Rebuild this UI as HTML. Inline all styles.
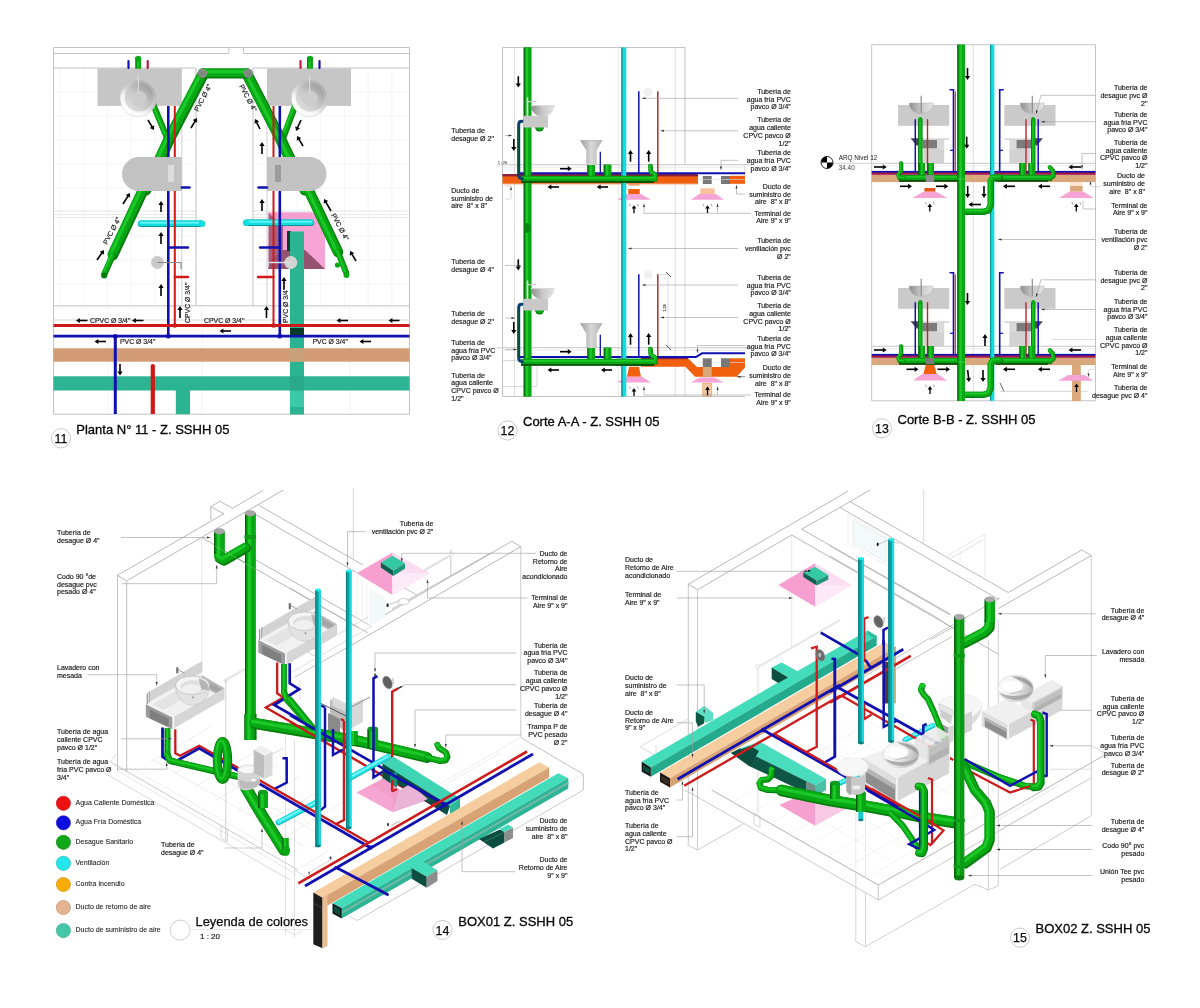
<!DOCTYPE html>
<html lang="es"><head><meta charset="utf-8"><title>Z. SSHH 05 - Instalaciones</title>
<style>
html,body{margin:0;padding:0;background:#fff;}
body{width:1200px;height:1008px;overflow:hidden;font-family:"Liberation Sans",sans-serif;}
svg{display:block;}
svg text{font-family:"Liberation Sans",sans-serif;}
svg{will-change:transform;}
svg text{stroke:#222;stroke-width:0.18px;}
</style></head><body>
<svg width="1200" height="1008" viewBox="0 0 1200 1008">
<defs>
<radialGradient id="bowl" cx="0.45" cy="0.6" r="0.6"><stop offset="0" stop-color="#d9d9d9"/><stop offset="0.35" stop-color="#c4c4c4"/><stop offset="0.75" stop-color="#a3a3a3"/><stop offset="1" stop-color="#e9e9e9"/></radialGradient>
<linearGradient id="basinO" x1="0.85" y1="0.1" x2="0.2" y2="0.95"><stop offset="0" stop-color="#a9a9a9"/><stop offset="0.45" stop-color="#cfcfcf"/><stop offset="0.7" stop-color="#f6f6f6"/><stop offset="1" stop-color="#ffffff"/></linearGradient>
<linearGradient id="basinI" x1="0.15" y1="0.9" x2="0.85" y2="0.1"><stop offset="0" stop-color="#dedede"/><stop offset="0.5" stop-color="#c6c6c6"/><stop offset="1" stop-color="#9e9e9e"/></linearGradient>
<linearGradient id="bowlB" x1="0.1" y1="0.3" x2="1" y2="0.6"><stop offset="0" stop-color="#fafafa"/><stop offset="0.45" stop-color="#ececec"/><stop offset="0.8" stop-color="#c9c9c9"/><stop offset="1" stop-color="#b0b0b0"/></linearGradient>
<linearGradient id="bowlS" x1="0" y1="0" x2="1" y2="0"><stop offset="0" stop-color="#8e8e8e"/><stop offset="0.5" stop-color="#c9c9c9"/><stop offset="1" stop-color="#e6e6e6"/></linearGradient>
<linearGradient id="fun" x1="0" y1="0" x2="1" y2="0"><stop offset="0" stop-color="#9a9a9a"/><stop offset="0.5" stop-color="#d8d8d8"/><stop offset="1" stop-color="#b0b0b0"/></linearGradient>
</defs>
<rect width="1200" height="1008" fill="#ffffff"/>
<g id="planta11">
<line x1="60" y1="68" x2="60" y2="306" stroke="#f1f1f1" stroke-width="0.8" />
<line x1="83.7" y1="68" x2="83.7" y2="306" stroke="#f1f1f1" stroke-width="0.8" />
<line x1="107.4" y1="68" x2="107.4" y2="306" stroke="#f1f1f1" stroke-width="0.8" />
<line x1="131.1" y1="68" x2="131.1" y2="306" stroke="#f1f1f1" stroke-width="0.8" />
<line x1="154.8" y1="68" x2="154.8" y2="306" stroke="#f1f1f1" stroke-width="0.8" />
<line x1="178.5" y1="68" x2="178.5" y2="306" stroke="#f1f1f1" stroke-width="0.8" />
<line x1="273.3" y1="68" x2="273.3" y2="306" stroke="#f1f1f1" stroke-width="0.8" />
<line x1="297" y1="68" x2="297" y2="306" stroke="#f1f1f1" stroke-width="0.8" />
<line x1="320.7" y1="68" x2="320.7" y2="306" stroke="#f1f1f1" stroke-width="0.8" />
<line x1="344.4" y1="68" x2="344.4" y2="306" stroke="#f1f1f1" stroke-width="0.8" />
<line x1="368.1" y1="68" x2="368.1" y2="306" stroke="#f1f1f1" stroke-width="0.8" />
<line x1="391.8" y1="68" x2="391.8" y2="306" stroke="#f1f1f1" stroke-width="0.8" />
<line x1="54" y1="91.7" x2="196" y2="91.7" stroke="#f1f1f1" stroke-width="0.8" />
<line x1="253" y1="91.7" x2="409" y2="91.7" stroke="#f1f1f1" stroke-width="0.8" />
<line x1="54" y1="115.7" x2="196" y2="115.7" stroke="#f1f1f1" stroke-width="0.8" />
<line x1="253" y1="115.7" x2="409" y2="115.7" stroke="#f1f1f1" stroke-width="0.8" />
<line x1="54" y1="139.7" x2="196" y2="139.7" stroke="#f1f1f1" stroke-width="0.8" />
<line x1="253" y1="139.7" x2="409" y2="139.7" stroke="#f1f1f1" stroke-width="0.8" />
<line x1="54" y1="163.7" x2="196" y2="163.7" stroke="#f1f1f1" stroke-width="0.8" />
<line x1="253" y1="163.7" x2="409" y2="163.7" stroke="#f1f1f1" stroke-width="0.8" />
<line x1="54" y1="187.7" x2="196" y2="187.7" stroke="#f1f1f1" stroke-width="0.8" />
<line x1="253" y1="187.7" x2="409" y2="187.7" stroke="#f1f1f1" stroke-width="0.8" />
<line x1="54" y1="211.7" x2="196" y2="211.7" stroke="#f1f1f1" stroke-width="0.8" />
<line x1="253" y1="211.7" x2="409" y2="211.7" stroke="#f1f1f1" stroke-width="0.8" />
<line x1="54" y1="235.7" x2="196" y2="235.7" stroke="#f1f1f1" stroke-width="0.8" />
<line x1="253" y1="235.7" x2="409" y2="235.7" stroke="#f1f1f1" stroke-width="0.8" />
<line x1="54" y1="259.7" x2="196" y2="259.7" stroke="#f1f1f1" stroke-width="0.8" />
<line x1="253" y1="259.7" x2="409" y2="259.7" stroke="#f1f1f1" stroke-width="0.8" />
<line x1="54" y1="283.7" x2="196" y2="283.7" stroke="#f1f1f1" stroke-width="0.8" />
<line x1="253" y1="283.7" x2="409" y2="283.7" stroke="#f1f1f1" stroke-width="0.8" />
<line x1="54" y1="307.7" x2="196" y2="307.7" stroke="#f1f1f1" stroke-width="0.8" />
<line x1="253" y1="307.7" x2="409" y2="307.7" stroke="#f1f1f1" stroke-width="0.8" />
<line x1="108" y1="306" x2="108" y2="414" stroke="#f0f0f0" stroke-width="0.8" />
<line x1="202" y1="306" x2="202" y2="414" stroke="#f0f0f0" stroke-width="0.8" />
<line x1="299" y1="306" x2="299" y2="414" stroke="#f0f0f0" stroke-width="0.8" />
<line x1="350" y1="306" x2="350" y2="414" stroke="#f0f0f0" stroke-width="0.8" />
<line x1="54" y1="211" x2="196" y2="211" stroke="#dedede" stroke-width="0.7" />
<line x1="253" y1="211" x2="409" y2="211" stroke="#dedede" stroke-width="0.7" />
<line x1="54" y1="214.5" x2="196" y2="214.5" stroke="#dedede" stroke-width="0.7" />
<line x1="253" y1="214.5" x2="409" y2="214.5" stroke="#dedede" stroke-width="0.7" />
<line x1="54" y1="217.5" x2="196" y2="217.5" stroke="#dedede" stroke-width="0.7" />
<line x1="253" y1="217.5" x2="409" y2="217.5" stroke="#dedede" stroke-width="0.7" />
<polyline points="53.5,414.2 53.5,47.5 409.5,47.5 409.5,414.2" stroke="#bcbcbc" stroke-width="0.9" fill="none" />
<polyline points="53.5,53.5 228.8,53.5 228.8,48" stroke="#bcbcbc" stroke-width="0.9" fill="none" />
<polyline points="409.5,53.5 243.5,53.5 243.5,48" stroke="#bcbcbc" stroke-width="0.9" fill="none" />
<line x1="53.5" y1="414.2" x2="409.5" y2="414.2" stroke="#bcbcbc" stroke-width="0.9" />
<line x1="53.5" y1="68" x2="196" y2="68" stroke="#bcbcbc" stroke-width="0.9" />
<line x1="253" y1="68" x2="409.5" y2="68" stroke="#bcbcbc" stroke-width="0.9" />
<polyline points="196,68 196,305.8 253,305.8 253,68" stroke="#bcbcbc" stroke-width="0.9" fill="none" />
<line x1="53.5" y1="305.8" x2="196" y2="305.8" stroke="#bcbcbc" stroke-width="0.9" />
<line x1="253" y1="305.8" x2="409.5" y2="305.8" stroke="#bcbcbc" stroke-width="0.9" />
<line x1="53.5" y1="320" x2="409.5" y2="320" stroke="#c8c8c8" stroke-width="0.7" />
<line x1="181.8" y1="106" x2="181.8" y2="305" stroke="#c4c4c4" stroke-width="0.8" />
<line x1="267" y1="106" x2="267" y2="305" stroke="#c4c4c4" stroke-width="0.8" />
<rect x="268.5" y="212.5" width="56.5" height="56.5" fill="#f6a4d6" stroke="none" stroke-width="0" />
<polygon points="268.5,212.5 283,226 283,269 268.5,269" fill="#a2627f" stroke="none" stroke-width="0" />
<polygon points="283,250 305,250 325,269 268.5,269 268.5,262" fill="#96536f" stroke="none" stroke-width="0" />
<polygon points="268.5,212.5 312,212.5 312,222 283,226" fill="#f39fd0" stroke="none" stroke-width="0" />
<rect x="287" y="231" width="4" height="20" fill="#0a3d30" stroke="none" stroke-width="0" />
<rect x="290" y="231.5" width="14" height="183" fill="#2cb392" stroke="none" stroke-width="0" />
<rect x="290" y="328" width="14" height="8.5" fill="#0b3a2c" stroke="none" stroke-width="0" />
<rect x="290" y="390" width="14" height="17" fill="#3bc9a8" stroke="none" stroke-width="0" />
<rect x="53.5" y="348.3" width="356" height="13.4" fill="#d29b73" stroke="none" stroke-width="0" />
<rect x="53.5" y="376.3" width="356" height="14.2" fill="#2cb392" stroke="none" stroke-width="0" />
<rect x="290" y="348.3" width="14" height="13.4" fill="#c9a178" stroke="none" stroke-width="0" />
<rect x="290" y="376.3" width="14" height="14.2" fill="#2aa98a" stroke="none" stroke-width="0" />
<rect x="175.8" y="390" width="14.2" height="24.2" fill="#2cb392" stroke="none" stroke-width="0" />
<rect x="97.5" y="68.3" width="84.3" height="37.6" fill="#c6c6c6" stroke="none" stroke-width="0" />
<rect x="267" y="68.3" width="84" height="37.6" fill="#c6c6c6" stroke="none" stroke-width="0" />
<rect x="135.55" y="57" width="5.5" height="11.5" fill="#057c0c" stroke="none" stroke-width="0" />
<rect x="136.27" y="57" width="4.79" height="11.5" fill="#08a814" stroke="none" stroke-width="0" />
<rect x="137.09" y="57" width="1.65" height="11.5" fill="#1cc828" stroke="none" stroke-width="0" />
<rect x="135.55" y="57" width="0.55" height="11.5" fill="#03590a" stroke="none" stroke-width="0" />
<circle cx="138.3" cy="58.5" r="2.8" fill="#08a814" stroke="none" stroke-width="0" />
<rect x="307.25" y="57" width="5.5" height="11.5" fill="#057c0c" stroke="none" stroke-width="0" />
<rect x="307.96" y="57" width="4.79" height="11.5" fill="#08a814" stroke="none" stroke-width="0" />
<rect x="308.79" y="57" width="1.65" height="11.5" fill="#1cc828" stroke="none" stroke-width="0" />
<rect x="307.25" y="57" width="0.55" height="11.5" fill="#03590a" stroke="none" stroke-width="0" />
<circle cx="310" cy="58.5" r="2.8" fill="#08a814" stroke="none" stroke-width="0" />
<line x1="128.5" y1="61" x2="128.5" y2="68" stroke="#1010b0" stroke-width="2.2" stroke-linecap="round"/>
<line x1="147.7" y1="61" x2="147.7" y2="68" stroke="#c2183a" stroke-width="2.2" stroke-linecap="round"/>
<line x1="300.5" y1="61" x2="300.5" y2="68" stroke="#d0183a" stroke-width="2.2" stroke-linecap="round"/>
<line x1="319.5" y1="61" x2="319.5" y2="68" stroke="#1010b0" stroke-width="2.2" stroke-linecap="round"/>
<polyline points="153,104 168,140" stroke="#057c0c" stroke-width="6" fill="none" stroke-linecap="round" stroke-linejoin="round"/>
<polyline points="152.46,103.46 167.46,139.46" stroke="#08a814" stroke-width="5.04" fill="none" stroke-linecap="round" stroke-linejoin="round"/>
<polyline points="151.92,102.92 166.92,138.92" stroke="#1cc828" stroke-width="1.8" fill="none" stroke-linecap="round" stroke-linejoin="round"/>
<polyline points="296,104 284,136" stroke="#057c0c" stroke-width="6" fill="none" stroke-linecap="round" stroke-linejoin="round"/>
<polyline points="295.46,103.46 283.46,135.46" stroke="#08a814" stroke-width="5.04" fill="none" stroke-linecap="round" stroke-linejoin="round"/>
<polyline points="294.92,102.92 282.92,134.92" stroke="#1cc828" stroke-width="1.8" fill="none" stroke-linecap="round" stroke-linejoin="round"/>
<polyline points="203.5,74 170,138 146,190" stroke="#057c0c" stroke-width="11" fill="none" stroke-linecap="round" stroke-linejoin="round"/>
<polyline points="202.51,73.01 169.01,137.01 145.01,189.01" stroke="#08a814" stroke-width="9.24" fill="none" stroke-linecap="round" stroke-linejoin="round"/>
<polyline points="201.52,72.02 168.02,136.02 144.02,188.02" stroke="#1cc828" stroke-width="3.3" fill="none" stroke-linecap="round" stroke-linejoin="round"/>
<polyline points="247,74 280,138 305,190" stroke="#057c0c" stroke-width="11" fill="none" stroke-linecap="round" stroke-linejoin="round"/>
<polyline points="246.01,73.01 279.01,137.01 304.01,189.01" stroke="#08a814" stroke-width="9.24" fill="none" stroke-linecap="round" stroke-linejoin="round"/>
<polyline points="245.02,72.02 278.02,136.02 303.02,188.02" stroke="#1cc828" stroke-width="3.3" fill="none" stroke-linecap="round" stroke-linejoin="round"/>
<polyline points="203,73.5 247.5,73.5" stroke="#057c0c" stroke-width="10" fill="none" stroke-linecap="round" stroke-linejoin="round"/>
<polyline points="203,72.6 247.5,72.6" stroke="#08a814" stroke-width="8.4" fill="none" stroke-linecap="round" stroke-linejoin="round"/>
<polyline points="203,71.7 247.5,71.7" stroke="#1cc828" stroke-width="3" fill="none" stroke-linecap="round" stroke-linejoin="round"/>
<circle cx="202.5" cy="73.3" r="4.6" fill="#8c8c8c" stroke="none" stroke-width="0" />
<circle cx="202.5" cy="73.3" r="3" fill="#7c8a7c" stroke="none" stroke-width="0" />
<circle cx="248.3" cy="73.3" r="4.6" fill="#8c8c8c" stroke="none" stroke-width="0" />
<circle cx="248.3" cy="73.3" r="3" fill="#7c8a7c" stroke="none" stroke-width="0" />
<polyline points="142,193 113,255" stroke="#057c0c" stroke-width="10.5" fill="none" stroke-linecap="round" stroke-linejoin="round"/>
<polyline points="141.06,192.06 112.06,254.06" stroke="#08a814" stroke-width="8.82" fill="none" stroke-linecap="round" stroke-linejoin="round"/>
<polyline points="140.11,191.11 111.11,253.11" stroke="#1cc828" stroke-width="3.15" fill="none" stroke-linecap="round" stroke-linejoin="round"/>
<polyline points="113,255 104.5,274" stroke="#057c0c" stroke-width="6" fill="none" stroke-linecap="round" stroke-linejoin="round"/>
<polyline points="112.46,254.46 103.96,273.46" stroke="#08a814" stroke-width="5.04" fill="none" stroke-linecap="round" stroke-linejoin="round"/>
<polyline points="111.92,253.92 103.42,272.92" stroke="#1cc828" stroke-width="1.8" fill="none" stroke-linecap="round" stroke-linejoin="round"/>
<circle cx="104.2" cy="275.5" r="3" fill="#057c0c" stroke="none" stroke-width="0" />
<polyline points="310,193 338,252" stroke="#057c0c" stroke-width="10.5" fill="none" stroke-linecap="round" stroke-linejoin="round"/>
<polyline points="309.06,192.06 337.06,251.06" stroke="#08a814" stroke-width="8.82" fill="none" stroke-linecap="round" stroke-linejoin="round"/>
<polyline points="308.11,191.11 336.11,250.11" stroke="#1cc828" stroke-width="3.15" fill="none" stroke-linecap="round" stroke-linejoin="round"/>
<polyline points="338,252 346,272" stroke="#057c0c" stroke-width="6" fill="none" stroke-linecap="round" stroke-linejoin="round"/>
<polyline points="337.46,251.46 345.46,271.46" stroke="#08a814" stroke-width="5.04" fill="none" stroke-linecap="round" stroke-linejoin="round"/>
<polyline points="336.92,250.92 344.92,270.92" stroke="#1cc828" stroke-width="1.8" fill="none" stroke-linecap="round" stroke-linejoin="round"/>
<circle cx="337.5" cy="265" r="2.6" fill="#08a814" stroke="none" stroke-width="0" />
<circle cx="346.5" cy="275" r="3" fill="#08a814" stroke="none" stroke-width="0" />
<polyline points="141,223.7 201,223.7" stroke="#0b9397" stroke-width="6.4" fill="none" stroke-linecap="round" stroke-linejoin="round"/>
<polyline points="141,223.24 201,223.24" stroke="#14dde0" stroke-width="5.38" fill="none" stroke-linecap="round" stroke-linejoin="round"/>
<polyline points="141,222.78 201,222.78" stroke="#5ff2f4" stroke-width="1.92" fill="none" stroke-linecap="round" stroke-linejoin="round"/>
<circle cx="202" cy="223.7" r="3.2" fill="#14dde0" stroke="none" stroke-width="0" />
<polyline points="247,222.7 311,222.7" stroke="#0b9397" stroke-width="6.4" fill="none" stroke-linecap="round" stroke-linejoin="round"/>
<polyline points="247,222.24 311,222.24" stroke="#14dde0" stroke-width="5.38" fill="none" stroke-linecap="round" stroke-linejoin="round"/>
<polyline points="247,221.78 311,221.78" stroke="#5ff2f4" stroke-width="1.92" fill="none" stroke-linecap="round" stroke-linejoin="round"/>
<circle cx="246" cy="222.7" r="3.2" fill="#14dde0" stroke="none" stroke-width="0" />
<circle cx="138.3" cy="98.3" r="18.2" fill="url(#basinO)" stroke="#c9c9c9" stroke-width="0.5" />
<circle cx="138.9" cy="97.4" r="14.2" fill="url(#basinI)" stroke="none" stroke-width="0" />
<circle cx="139.1" cy="98.6" r="7.6" fill="#cdcdcd" stroke="none" stroke-width="0" />
<line x1="138.3" y1="74" x2="138.3" y2="93" stroke="#d9d9d9" stroke-width="1.2" />
<circle cx="309.5" cy="98.3" r="18.2" fill="url(#basinO)" stroke="#c9c9c9" stroke-width="0.5" />
<circle cx="310.1" cy="97.4" r="14.2" fill="url(#basinI)" stroke="none" stroke-width="0" />
<circle cx="310.3" cy="98.6" r="7.6" fill="#cdcdcd" stroke="none" stroke-width="0" />
<line x1="309.5" y1="74" x2="309.5" y2="93" stroke="#d9d9d9" stroke-width="1.2" />
<line x1="168.3" y1="106" x2="168.3" y2="336" stroke="#1010b0" stroke-width="2.6" />
<line x1="174.8" y1="106" x2="174.8" y2="325.5" stroke="#d01818" stroke-width="2" />
<line x1="279.8" y1="106" x2="279.8" y2="336" stroke="#1010b0" stroke-width="2.6" />
<line x1="273.5" y1="106" x2="273.5" y2="325.5" stroke="#d01818" stroke-width="2" />
<path d="M181.8,157 H139 A17,17 0 0 0 139,191 H181.8 Z" fill="#c2c2c2" stroke="none" stroke-width="0" />
<rect x="168" y="165" width="6" height="17" fill="#dcdcdc" stroke="none" stroke-width="0" />
<path d="M267,157 H309.5 A17,17 0 0 1 309.5,191 H267 Z" fill="#c2c2c2" stroke="none" stroke-width="0" />
<rect x="275" y="165" width="6" height="17" fill="#9c9c9c" stroke="none" stroke-width="0" />
<line x1="181.8" y1="187.5" x2="189.5" y2="187.5" stroke="#1010b0" stroke-width="2.4" stroke-linecap="round"/>
<line x1="258.5" y1="187.5" x2="267" y2="187.5" stroke="#1010b0" stroke-width="2.4" stroke-linecap="round"/>
<line x1="168.3" y1="247.5" x2="188" y2="247.5" stroke="#1010b0" stroke-width="2.4" stroke-linecap="round"/>
<line x1="260" y1="247.5" x2="279.8" y2="247.5" stroke="#1010b0" stroke-width="2.4" stroke-linecap="round"/>
<line x1="174.8" y1="277" x2="188" y2="277" stroke="#d01818" stroke-width="2.4" stroke-linecap="round"/>
<line x1="258" y1="277" x2="273.5" y2="277" stroke="#d01818" stroke-width="2.4" stroke-linecap="round"/>
<circle cx="157.5" cy="262.5" r="6.5" fill="#c9c9c9" stroke="none" stroke-width="0" />
<polyline points="157.5,262.5 181,262.5 181,269" stroke="#8a8a8a" stroke-width="1.2" fill="none" />
<circle cx="290.8" cy="262.5" r="6.5" fill="#d4d4d4" stroke="none" stroke-width="0" />
<polyline points="290.8,262.5 268,262.5 268,267" stroke="#e0e0e0" stroke-width="1.6" fill="none" />
<line x1="53.5" y1="325.5" x2="409.5" y2="325.5" stroke="#d01818" stroke-width="2.8" />
<line x1="53.5" y1="336.2" x2="409.5" y2="336.2" stroke="#1010b0" stroke-width="2.8" />
<rect x="290" y="328" width="14" height="7" fill="#0b3a2c" stroke="none" stroke-width="0" />
<line x1="115.3" y1="336" x2="115.3" y2="414" stroke="#1010b0" stroke-width="3" />
<line x1="152.8" y1="366" x2="152.8" y2="414" stroke="#d01818" stroke-width="4.2" />
<circle cx="152.8" cy="366" r="2.1" fill="#d01818" stroke="none" stroke-width="0" />
<circle cx="168.3" cy="336.2" r="2.4" fill="#1010b0" stroke="none" stroke-width="0" />
<circle cx="279.8" cy="336.2" r="2.4" fill="#1010b0" stroke="none" stroke-width="0" />
<circle cx="115.3" cy="336.5" r="2.4" fill="#1010b0" stroke="none" stroke-width="0" />
<circle cx="174.8" cy="325.5" r="2.3" fill="#d01818" stroke="none" stroke-width="0" />
<circle cx="273.5" cy="325.5" r="2.3" fill="#d01818" stroke="none" stroke-width="0" />
<line x1="148" y1="120" x2="152.25" y2="127.08" stroke="#000" stroke-width="1.6" />
<polygon points="154,130 149.76,127.99 154.22,125.32" fill="#000" stroke="none" stroke-width="0" />
<line x1="191" y1="128" x2="195.25" y2="120.92" stroke="#000" stroke-width="1.6" />
<polygon points="197,118 197.22,122.68 192.76,120.01" fill="#000" stroke="none" stroke-width="0" />
<line x1="260" y1="129" x2="256.52" y2="122.04" stroke="#000" stroke-width="1.6" />
<polygon points="255,119 259.07,121.33 254.42,123.65" fill="#000" stroke="none" stroke-width="0" />
<line x1="301" y1="120" x2="297.41" y2="127.9" stroke="#000" stroke-width="1.6" />
<polygon points="296,131 295.25,126.37 299.98,128.53" fill="#000" stroke="none" stroke-width="0" />
<line x1="303" y1="146" x2="298.75" y2="138.92" stroke="#000" stroke-width="1.6" />
<polygon points="297,136 301.24,138.01 296.78,140.68" fill="#000" stroke="none" stroke-width="0" />
<line x1="262" y1="154" x2="262" y2="145.4" stroke="#000" stroke-width="1.6" />
<polygon points="262,142 264.6,145.9 259.4,145.9" fill="#000" stroke="none" stroke-width="0" />
<line x1="123" y1="204" x2="128.17" y2="195.87" stroke="#000" stroke-width="1.6" />
<polygon points="130,193 130.1,197.69 125.71,194.89" fill="#000" stroke="none" stroke-width="0" />
<line x1="161" y1="212" x2="161" y2="204.4" stroke="#000" stroke-width="1.6" />
<polygon points="161,201 163.6,204.9 158.4,204.9" fill="#000" stroke="none" stroke-width="0" />
<line x1="262" y1="211" x2="262" y2="202.4" stroke="#000" stroke-width="1.6" />
<polygon points="262,199 264.6,202.9 259.4,202.9" fill="#000" stroke="none" stroke-width="0" />
<line x1="331" y1="211" x2="325.71" y2="201.94" stroke="#000" stroke-width="1.6" />
<polygon points="324,199 328.21,201.06 323.72,203.68" fill="#000" stroke="none" stroke-width="0" />
<line x1="97" y1="260" x2="102.05" y2="252.79" stroke="#000" stroke-width="1.6" />
<polygon points="104,250 103.89,254.69 99.63,251.7" fill="#000" stroke="none" stroke-width="0" />
<line x1="161" y1="244" x2="161" y2="235.4" stroke="#000" stroke-width="1.6" />
<polygon points="161,232 163.6,235.9 158.4,235.9" fill="#000" stroke="none" stroke-width="0" />
<line x1="161" y1="296" x2="161" y2="287.4" stroke="#000" stroke-width="1.6" />
<polygon points="161,284 163.6,287.9 158.4,287.9" fill="#000" stroke="none" stroke-width="0" />
<line x1="180" y1="318" x2="180" y2="309.4" stroke="#000" stroke-width="1.6" />
<polygon points="180,306 182.6,309.9 177.4,309.9" fill="#000" stroke="none" stroke-width="0" />
<line x1="266.5" y1="318" x2="266.5" y2="309.4" stroke="#000" stroke-width="1.6" />
<polygon points="266.5,306 269.1,309.9 263.9,309.9" fill="#000" stroke="none" stroke-width="0" />
<line x1="284" y1="289" x2="284" y2="280.4" stroke="#000" stroke-width="1.6" />
<polygon points="284,277 286.6,280.9 281.4,280.9" fill="#000" stroke="none" stroke-width="0" />
<line x1="356" y1="261" x2="351.75" y2="253.92" stroke="#000" stroke-width="1.6" />
<polygon points="350,251 354.24,253.01 349.78,255.68" fill="#000" stroke="none" stroke-width="0" />
<line x1="87.5" y1="320.5" x2="79.4" y2="320.5" stroke="#000" stroke-width="1.6" />
<polygon points="76,320.5 79.9,317.9 79.9,323.1" fill="#000" stroke="none" stroke-width="0" />
<line x1="143.5" y1="320.5" x2="135.4" y2="320.5" stroke="#000" stroke-width="1.6" />
<polygon points="132,320.5 135.9,317.9 135.9,323.1" fill="#000" stroke="none" stroke-width="0" />
<line x1="231" y1="331" x2="222.9" y2="331" stroke="#000" stroke-width="1.6" />
<polygon points="219.5,331 223.4,328.4 223.4,333.6" fill="#000" stroke="none" stroke-width="0" />
<line x1="348" y1="320.5" x2="339.9" y2="320.5" stroke="#000" stroke-width="1.6" />
<polygon points="336.5,320.5 340.4,317.9 340.4,323.1" fill="#000" stroke="none" stroke-width="0" />
<line x1="399.5" y1="320.5" x2="391.9" y2="320.5" stroke="#000" stroke-width="1.6" />
<polygon points="388.5,320.5 392.4,317.9 392.4,323.1" fill="#000" stroke="none" stroke-width="0" />
<line x1="106" y1="341.5" x2="97.9" y2="341.5" stroke="#000" stroke-width="1.6" />
<polygon points="94.5,341.5 98.4,338.9 98.4,344.1" fill="#000" stroke="none" stroke-width="0" />
<line x1="371" y1="341.5" x2="362.9" y2="341.5" stroke="#000" stroke-width="1.6" />
<polygon points="359.5,341.5 363.4,338.9 363.4,344.1" fill="#000" stroke="none" stroke-width="0" />
<line x1="120" y1="364" x2="120" y2="372.1" stroke="#000" stroke-width="1.6" />
<polygon points="120,375.5 117.4,371.6 122.6,371.6" fill="#000" stroke="none" stroke-width="0" />
<text x="90" y="322.8" font-size="6.9" text-anchor="start" fill="#222" >CPVC Ø 3/4"</text>
<text x="204" y="322.8" font-size="6.9" text-anchor="start" fill="#222" >CPVC Ø 3/4"</text>
<text x="120" y="344.2" font-size="6.9" text-anchor="start" fill="#222" >PVC Ø 3/4"</text>
<text x="312.5" y="344.2" font-size="6.9" text-anchor="start" fill="#222" >PVC Ø 3/4"</text>
<text transform="translate(189.5 323) rotate(-90)" font-size="6.9" text-anchor="start" fill="#222">CPVC Ø 3/4"</text>
<text transform="translate(288 323) rotate(-90)" font-size="6.9" text-anchor="start" fill="#222">PVC Ø 3/4"</text>
<text transform="translate(205 99) rotate(-62)" font-size="6.9" text-anchor="middle" fill="#222">PVC Ø 4"</text>
<text transform="translate(246 99) rotate(62)" font-size="6.9" text-anchor="middle" fill="#222">PVC Ø 4"</text>
<text transform="translate(114 232) rotate(-62)" font-size="6.9" text-anchor="middle" fill="#222">PVC Ø 4"</text>
<text transform="translate(338 228) rotate(62)" font-size="6.9" text-anchor="middle" fill="#222">PVC Ø 4"</text>
<circle cx="61" cy="438.3" r="9.6" fill="#fff" stroke="#bdbdbd" stroke-width="0.8" />
<text x="61" y="442.9" font-size="12.4" text-anchor="middle" fill="#0a0a0a" style="stroke:#0a0a0a;stroke-width:0.25px">11</text>
<text x="76.3" y="433.8" font-size="13.0" text-anchor="start" fill="#050505" style="stroke:#050505;stroke-width:0.3px">Planta N° 11 - Z. SSHH 05</text>
</g>
<g id="corteAA">
<polyline points="502.5,396.5 502.5,47.5 685,47.5 685,165" stroke="#bdbdbd" stroke-width="0.9" fill="none" />
<line x1="502.5" y1="396.5" x2="745" y2="396.5" stroke="#bdbdbd" stroke-width="0.9" />
<line x1="685" y1="176" x2="685" y2="396.5" stroke="#cfcfcf" stroke-width="0.8" />
<line x1="514.5" y1="47.5" x2="514.5" y2="396.5" stroke="#d4d4d4" stroke-width="0.8" />
<line x1="675.3" y1="47.5" x2="675.3" y2="396.5" stroke="#d4d4d4" stroke-width="0.8" />
<line x1="618.3" y1="47.5" x2="618.3" y2="396.5" stroke="#e2e2e2" stroke-width="0.8" />
<line x1="745" y1="165" x2="745" y2="176" stroke="#cfcfcf" stroke-width="0.8" />
<line x1="497" y1="164.7" x2="752" y2="164.7" stroke="#c4c4c4" stroke-width="1.1" />
<line x1="502.5" y1="167.2" x2="745" y2="167.2" stroke="#e0e0e0" stroke-width="0.7" />
<line x1="497" y1="347.7" x2="752" y2="347.7" stroke="#c4c4c4" stroke-width="1.1" />
<line x1="502.5" y1="350.2" x2="745" y2="350.2" stroke="#e0e0e0" stroke-width="0.7" />
<line x1="502.5" y1="360.5" x2="523" y2="360.5" stroke="#cfcfcf" stroke-width="0.8" />
<polyline points="502.5,386.5 537,386.5 537,366" stroke="#cfcfcf" stroke-width="0.8" fill="none" />
<rect x="502.5" y="175.8" width="195.5" height="8" fill="#f0600f" stroke="none" stroke-width="0" />
<rect x="502.5" y="174" width="195.5" height="2.4" fill="#8a1f3c" stroke="none" stroke-width="0" />
<rect x="730" y="175.8" width="15" height="8" fill="#f0600f" stroke="none" stroke-width="0" />
<rect x="702.8" y="176" width="8.9" height="8" fill="#777" stroke="none" stroke-width="0" />
<rect x="721" y="176" width="9" height="8" fill="#777" stroke="none" stroke-width="0" />
<line x1="698" y1="179.5" x2="745" y2="179.5" stroke="#d8d8d8" stroke-width="0.6" />
<line x1="502.5" y1="184.3" x2="698" y2="184.3" stroke="#f7c49a" stroke-width="0.8" />
<polygon points="641,358.3 688,358.3 697,367 745,367 745,358.5 745,367.5 736.7,376.7 695,376.7 685.5,366.7 641,366.7" fill="#f0600f" stroke="none" stroke-width="0" />
<rect x="730" y="358.3" width="15" height="9" fill="#f0600f" stroke="none" stroke-width="0" />
<rect x="641" y="357" width="47" height="2.2" fill="#8a1f3c" stroke="none" stroke-width="0" />
<polygon points="690.5,357 699.5,367 730,367 730,357" fill="#ffffff" stroke="none" stroke-width="0" />
<line x1="698" y1="362.5" x2="745" y2="362.5" stroke="#e0e0e0" stroke-width="0.6" />
<rect x="702.8" y="358.3" width="8.9" height="8.8" fill="#777" stroke="none" stroke-width="0" />
<rect x="721" y="358.3" width="9" height="8.8" fill="#777" stroke="none" stroke-width="0" />
<rect x="702.8" y="367" width="8.9" height="9.7" fill="#d9a979" stroke="none" stroke-width="0" />
<rect x="702.8" y="383.3" width="8.9" height="12.7" fill="#f3c7a0" stroke="#e9a56c" stroke-width="0.8" />
<polygon points="628.25,189 639.75,189 639.75,194 628.25,194" fill="#f0600f" stroke="none" stroke-width="0" />
<polygon points="627.25,194 640.75,194 651,199.7 617,199.7" fill="#f6a4d6" stroke="none" stroke-width="0" />
<line x1="629.4" y1="203.7" x2="630.6" y2="206.3" stroke="#7a7a8a" stroke-width="0.7" />
<line x1="637.4" y1="203.7" x2="638.6" y2="206.3" stroke="#5a7aa0" stroke-width="0.7" />
<line x1="634" y1="213.2" x2="634" y2="208.1" stroke="#000" stroke-width="1.3" />
<polygon points="634,205.2 636.3,208.6 631.7,208.6" fill="#000" stroke="none" stroke-width="0" />
<rect x="628.5" y="184" width="11" height="1.6" fill="#f5a070" stroke="none" stroke-width="0" />
<polygon points="700.3,188.3 714.7,188.3 714.7,194 700.3,194" fill="#f8c39c" stroke="none" stroke-width="0" />
<polygon points="699.3,194 715.7,194 724.1,199.7 690.9,199.7" fill="#f6a4d6" stroke="none" stroke-width="0" />
<line x1="702.9" y1="203.7" x2="704.1" y2="206.3" stroke="#7a7a8a" stroke-width="0.7" />
<line x1="710.9" y1="203.7" x2="712.1" y2="206.3" stroke="#5a7aa0" stroke-width="0.7" />
<line x1="707.5" y1="213.2" x2="707.5" y2="208.1" stroke="#000" stroke-width="1.3" />
<polygon points="707.5,205.2 709.8,208.6 705.2,208.6" fill="#000" stroke="none" stroke-width="0" />
<polygon points="629,366.7 639,366.7 641,376.7 627,376.7" fill="#f0600f" stroke="none" stroke-width="0" />
<polygon points="626,376.7 642,376.7 651,382.5 617,382.5" fill="#f6a4d6" stroke="none" stroke-width="0" />
<line x1="629.4" y1="386.5" x2="630.6" y2="389.1" stroke="#7a7a8a" stroke-width="0.7" />
<line x1="637.4" y1="386.5" x2="638.6" y2="389.1" stroke="#5a7aa0" stroke-width="0.7" />
<line x1="634" y1="396" x2="634" y2="390.9" stroke="#000" stroke-width="1.3" />
<polygon points="634,388 636.3,391.4 631.7,391.4" fill="#000" stroke="none" stroke-width="0" />
<polygon points="700,377.5 714.5,377.5 724,382.5 690.8,382.5" fill="#f6a4d6" stroke="none" stroke-width="0" />
<line x1="707.5" y1="395.5" x2="707.5" y2="389.4" stroke="#000" stroke-width="1.3" />
<polygon points="707.5,386.5 709.8,389.9 705.2,389.9" fill="#000" stroke="none" stroke-width="0" />
<line x1="520" y1="173.3" x2="745" y2="173.3" stroke="#1010b0" stroke-width="2" />
<rect x="587.45" y="164.7" width="7.5" height="12.3" fill="#057c0c" stroke="none" stroke-width="0" />
<rect x="588.43" y="164.7" width="6.53" height="12.3" fill="#08a814" stroke="none" stroke-width="0" />
<rect x="589.55" y="164.7" width="2.25" height="12.3" fill="#1cc828" stroke="none" stroke-width="0" />
<rect x="587.45" y="164.7" width="0.75" height="12.3" fill="#03590a" stroke="none" stroke-width="0" />
<rect x="603.75" y="164.7" width="7.5" height="12.3" fill="#057c0c" stroke="none" stroke-width="0" />
<rect x="604.73" y="164.7" width="6.53" height="12.3" fill="#08a814" stroke="none" stroke-width="0" />
<rect x="605.85" y="164.7" width="2.25" height="12.3" fill="#1cc828" stroke="none" stroke-width="0" />
<rect x="603.75" y="164.7" width="0.75" height="12.3" fill="#03590a" stroke="none" stroke-width="0" />
<line x1="600.3" y1="151.7" x2="600.3" y2="173" stroke="#1010b0" stroke-width="1.3" />
<polyline points="520,357 696,357 702,353.3 745,353.3" stroke="#1010b0" stroke-width="2" fill="none" />
<rect x="587.45" y="347.7" width="7.5" height="12.3" fill="#057c0c" stroke="none" stroke-width="0" />
<rect x="588.43" y="347.7" width="6.53" height="12.3" fill="#08a814" stroke="none" stroke-width="0" />
<rect x="589.55" y="347.7" width="2.25" height="12.3" fill="#1cc828" stroke="none" stroke-width="0" />
<rect x="587.45" y="347.7" width="0.75" height="12.3" fill="#03590a" stroke="none" stroke-width="0" />
<rect x="603.75" y="347.7" width="7.5" height="12.3" fill="#057c0c" stroke="none" stroke-width="0" />
<rect x="604.73" y="347.7" width="6.53" height="12.3" fill="#08a814" stroke="none" stroke-width="0" />
<rect x="605.85" y="347.7" width="2.25" height="12.3" fill="#1cc828" stroke="none" stroke-width="0" />
<rect x="603.75" y="347.7" width="0.75" height="12.3" fill="#03590a" stroke="none" stroke-width="0" />
<line x1="600.3" y1="334.7" x2="600.3" y2="356" stroke="#1010b0" stroke-width="1.3" />
<rect x="523.7" y="47.5" width="7.6" height="349" fill="#057c0c" stroke="none" stroke-width="0" />
<rect x="524.69" y="47.5" width="6.61" height="349" fill="#08a814" stroke="none" stroke-width="0" />
<rect x="525.83" y="47.5" width="2.28" height="349" fill="#1cc828" stroke="none" stroke-width="0" />
<rect x="523.7" y="47.5" width="0.76" height="349" fill="#03590a" stroke="none" stroke-width="0" />
<ellipse cx="527.5" cy="228" rx="3.6" ry="5" fill="#078a12" stroke="none" stroke-width="0" />
<rect x="521" y="175.8" width="133" height="6.4" fill="#057c0c" stroke="none" stroke-width="0" />
<rect x="521" y="176.06" width="133" height="4.86" fill="#08a814" stroke="none" stroke-width="0" />
<rect x="521" y="176.95" width="133" height="1.79" fill="#1cc828" stroke="none" stroke-width="0" />
<rect x="521" y="181.2" width="133" height="1.6" fill="#034d08" stroke="none" stroke-width="0" />
<polyline points="650.5,166 651,172 655.5,175 655.5,179.5 650,179.5" stroke="#057c0c" stroke-width="4.6" fill="none" stroke-linecap="round" stroke-linejoin="round"/>
<polyline points="650.09,165.59 650.59,171.59 655.09,174.59 655.09,179.09 649.59,179.09" stroke="#08a814" stroke-width="3.86" fill="none" stroke-linecap="round" stroke-linejoin="round"/>
<polyline points="649.67,165.17 650.17,171.17 654.67,174.17 654.67,178.67 649.17,178.67" stroke="#1cc828" stroke-width="1.38" fill="none" stroke-linecap="round" stroke-linejoin="round"/>
<path d="M523.5,121.3 H521.5 Q518.7,121.3 518.7,124.5 V175 Q518.7,178.5 522.5,178.8" fill="none" stroke="#0a3f6c" stroke-width="3" stroke-linecap="round"/>
<path d="M518.2,128 V174" fill="none" stroke="#0d5a3a" stroke-width="1.2" />
<line x1="527.5" y1="97.5" x2="527.5" y2="116" stroke="#e4e4e4" stroke-width="1.6" />
<line x1="527.5" y1="101.7" x2="536.5" y2="101.7" stroke="#d0d0d0" stroke-width="1.2" />
<path d="M530.8,105.3 H554.7 C554.7,112 549,116.5 542.7,116.5 C536,116.5 530.8,112 530.8,105.3 Z" fill="url(#bowlS)" stroke="none" stroke-width="0" />
<line x1="530.8" y1="105.6" x2="554.7" y2="105.6" stroke="#dadada" stroke-width="1" />
<path d="M535,127 A4.5,4.5 0 0 0 544,127 Z" fill="#057c0c" stroke="none" stroke-width="0" />
<path d="M536,127 A3.5,3.2 0 0 0 543,127 Z" fill="#08a814" stroke="none" stroke-width="0" />
<rect x="523.3" y="115.8" width="24.7" height="11.7" fill="#c9c9c9" stroke="none" stroke-width="0" />
<path d="M580,140.3 H602.5 L596.7,150.5 V165 H586.3 V150.5 Z" fill="url(#fun)" stroke="none" stroke-width="0" />
<line x1="580" y1="140.6" x2="602.5" y2="140.6" stroke="#b8b8b8" stroke-width="0.8" />
<line x1="638.8" y1="91.3" x2="638.8" y2="173.3" stroke="#1010b0" stroke-width="1.5" />
<line x1="657.8" y1="91.3" x2="657.8" y2="173.3" stroke="#b32a2a" stroke-width="1.5" />
<ellipse cx="648" cy="92" rx="4.5" ry="4.5" fill="#f1f1f1" stroke="none" stroke-width="0" />
<line x1="518.3" y1="76.3" x2="518.3" y2="84.1" stroke="#000" stroke-width="1.6" />
<polygon points="518.3,87.5 515.7,83.6 520.9,83.6" fill="#000" stroke="none" stroke-width="0" />
<line x1="513.8" y1="139" x2="513.8" y2="147.6" stroke="#000" stroke-width="1.6" />
<polygon points="513.8,151 511.2,147.1 516.4,147.1" fill="#000" stroke="none" stroke-width="0" />
<line x1="560" y1="168.7" x2="568.3" y2="168.7" stroke="#000" stroke-width="1.6" />
<polygon points="571.7,168.7 567.8,171.3 567.8,166.1" fill="#000" stroke="none" stroke-width="0" />
<line x1="559" y1="187" x2="550.9" y2="187" stroke="#000" stroke-width="1.6" />
<polygon points="547.5,187 551.4,184.4 551.4,189.6" fill="#000" stroke="none" stroke-width="0" />
<line x1="608" y1="187" x2="600.1" y2="187" stroke="#000" stroke-width="1.6" />
<polygon points="596.7,187 600.6,184.4 600.6,189.6" fill="#000" stroke="none" stroke-width="0" />
<line x1="630.5" y1="161.7" x2="630.5" y2="153.4" stroke="#000" stroke-width="1.6" />
<polygon points="630.5,150 633.1,153.9 627.9,153.9" fill="#000" stroke="none" stroke-width="0" />
<line x1="648.7" y1="161.7" x2="648.7" y2="153.4" stroke="#000" stroke-width="1.6" />
<polygon points="648.7,150 651.3,153.9 646.1,153.9" fill="#000" stroke="none" stroke-width="0" />
<rect x="521" y="358.8" width="133" height="6.4" fill="#057c0c" stroke="none" stroke-width="0" />
<rect x="521" y="359.06" width="133" height="4.86" fill="#08a814" stroke="none" stroke-width="0" />
<rect x="521" y="359.95" width="133" height="1.79" fill="#1cc828" stroke="none" stroke-width="0" />
<rect x="521" y="364.2" width="133" height="1.6" fill="#034d08" stroke="none" stroke-width="0" />
<polyline points="650.5,349 651,355 655.5,358 655.5,362.5 650,362.5" stroke="#057c0c" stroke-width="4.6" fill="none" stroke-linecap="round" stroke-linejoin="round"/>
<polyline points="650.09,348.59 650.59,354.59 655.09,357.59 655.09,362.09 649.59,362.09" stroke="#08a814" stroke-width="3.86" fill="none" stroke-linecap="round" stroke-linejoin="round"/>
<polyline points="649.67,348.17 650.17,354.17 654.67,357.17 654.67,361.67 649.17,361.67" stroke="#1cc828" stroke-width="1.38" fill="none" stroke-linecap="round" stroke-linejoin="round"/>
<path d="M523.5,304.3 H521.5 Q518.7,304.3 518.7,307.5 V358 Q518.7,361.5 522.5,361.8" fill="none" stroke="#0a3f6c" stroke-width="3" stroke-linecap="round"/>
<path d="M518.2,311 V357" fill="none" stroke="#0d5a3a" stroke-width="1.2" />
<line x1="527.5" y1="280.5" x2="527.5" y2="299" stroke="#e4e4e4" stroke-width="1.6" />
<line x1="527.5" y1="284.7" x2="536.5" y2="284.7" stroke="#d0d0d0" stroke-width="1.2" />
<path d="M530.8,288.3 H554.7 C554.7,295 549,299.5 542.7,299.5 C536,299.5 530.8,295 530.8,288.3 Z" fill="url(#bowlS)" stroke="none" stroke-width="0" />
<line x1="530.8" y1="288.6" x2="554.7" y2="288.6" stroke="#dadada" stroke-width="1" />
<path d="M535,310 A4.5,4.5 0 0 0 544,310 Z" fill="#057c0c" stroke="none" stroke-width="0" />
<path d="M536,310 A3.5,3.2 0 0 0 543,310 Z" fill="#08a814" stroke="none" stroke-width="0" />
<rect x="523.3" y="298.8" width="24.7" height="11.7" fill="#c9c9c9" stroke="none" stroke-width="0" />
<path d="M580,323.3 H602.5 L596.7,333.5 V348 H586.3 V333.5 Z" fill="url(#fun)" stroke="none" stroke-width="0" />
<line x1="580" y1="323.6" x2="602.5" y2="323.6" stroke="#b8b8b8" stroke-width="0.8" />
<line x1="638.8" y1="274.3" x2="638.8" y2="356.3" stroke="#1010b0" stroke-width="1.5" />
<line x1="657.8" y1="274.3" x2="657.8" y2="356.3" stroke="#b32a2a" stroke-width="1.5" />
<ellipse cx="648" cy="275" rx="4.5" ry="4.5" fill="#f1f1f1" stroke="none" stroke-width="0" />
<line x1="518.3" y1="259.3" x2="518.3" y2="267.1" stroke="#000" stroke-width="1.6" />
<polygon points="518.3,270.5 515.7,266.6 520.9,266.6" fill="#000" stroke="none" stroke-width="0" />
<line x1="513.8" y1="322" x2="513.8" y2="330.6" stroke="#000" stroke-width="1.6" />
<polygon points="513.8,334 511.2,330.1 516.4,330.1" fill="#000" stroke="none" stroke-width="0" />
<line x1="560" y1="351.7" x2="568.3" y2="351.7" stroke="#000" stroke-width="1.6" />
<polygon points="571.7,351.7 567.8,354.3 567.8,349.1" fill="#000" stroke="none" stroke-width="0" />
<line x1="559" y1="370" x2="550.9" y2="370" stroke="#000" stroke-width="1.6" />
<polygon points="547.5,370 551.4,367.4 551.4,372.6" fill="#000" stroke="none" stroke-width="0" />
<line x1="612" y1="370" x2="604.4" y2="370" stroke="#000" stroke-width="1.6" />
<polygon points="601,370 604.9,367.4 604.9,372.6" fill="#000" stroke="none" stroke-width="0" />
<line x1="630.5" y1="344.7" x2="630.5" y2="336.4" stroke="#000" stroke-width="1.6" />
<polygon points="630.5,333 633.1,336.9 627.9,336.9" fill="#000" stroke="none" stroke-width="0" />
<line x1="648.7" y1="344.7" x2="648.7" y2="336.4" stroke="#000" stroke-width="1.6" />
<polygon points="648.7,333 651.3,336.9 646.1,336.9" fill="#000" stroke="none" stroke-width="0" />
<rect x="621.3" y="47.5" width="5" height="349" fill="#14dde0" stroke="none" stroke-width="0" />
<rect x="621.3" y="47.5" width="1.4" height="349" fill="#0b9397" stroke="none" stroke-width="0" />
<rect x="616" y="175.8" width="38" height="6.4" fill="#057c0c" stroke="none" stroke-width="0" />
<rect x="616" y="176.06" width="38" height="4.86" fill="#08a814" stroke="none" stroke-width="0" />
<rect x="616" y="176.95" width="38" height="1.79" fill="#1cc828" stroke="none" stroke-width="0" />
<rect x="616" y="181.2" width="38" height="1.6" fill="#034d08" stroke="none" stroke-width="0" />
<rect x="616" y="358.8" width="38" height="6.4" fill="#057c0c" stroke="none" stroke-width="0" />
<rect x="616" y="359.06" width="38" height="4.86" fill="#08a814" stroke="none" stroke-width="0" />
<rect x="616" y="359.95" width="38" height="1.79" fill="#1cc828" stroke="none" stroke-width="0" />
<rect x="616" y="364.2" width="38" height="1.6" fill="#034d08" stroke="none" stroke-width="0" />
<polyline points="505,135.5 512,135.5" stroke="#9a9a9a" stroke-width="0.6" fill="none" />
<polygon points="512,135.5 508.48,136.49 508.48,134.51" fill="#333" stroke="none" stroke-width="0" />
<polyline points="505,186 511,186 511,199 505,199" stroke="#c0c0c0" stroke-width="0.6" fill="none" />
<polygon points="511,186.5 511.99,190.02 510.01,190.02" fill="#333" stroke="none" stroke-width="0" />
<polyline points="505,265.5 521,265.5" stroke="#9a9a9a" stroke-width="0.6" fill="none" />
<polygon points="521,265.5 517.48,266.49 517.48,264.51" fill="#333" stroke="none" stroke-width="0" />
<polyline points="505,318 515,318" stroke="#9a9a9a" stroke-width="0.6" fill="none" />
<polygon points="515,318 511.48,318.99 511.48,317.01" fill="#333" stroke="none" stroke-width="0" />
<polyline points="505,349.5 517,349.5" stroke="#9a9a9a" stroke-width="0.6" fill="none" />
<polygon points="517,349.5 513.48,350.49 513.48,348.51" fill="#333" stroke="none" stroke-width="0" />
<polyline points="738,98.3 642,98.3" stroke="#9a9a9a" stroke-width="0.6" fill="none" />
<polygon points="642,98.3 645.52,97.31 645.52,99.29" fill="#333" stroke="none" stroke-width="0" />
<polyline points="738,130.8 660.5,130.8" stroke="#9a9a9a" stroke-width="0.6" fill="none" />
<polygon points="660.5,130.8 664.02,129.81 664.02,131.79" fill="#333" stroke="none" stroke-width="0" />
<polyline points="738,160.3 721,160.3 721,170" stroke="#9a9a9a" stroke-width="0.6" fill="none" />
<polygon points="721,170 720.01,166.48 721.99,166.48" fill="#333" stroke="none" stroke-width="0" />
<polyline points="745,194 736.5,194 736.5,185" stroke="#9a9a9a" stroke-width="0.6" fill="none" />
<polygon points="736.5,185 737.49,188.52 735.51,188.52" fill="#333" stroke="none" stroke-width="0" />
<polyline points="751,213.3 717.5,213.3 717.5,203.5" stroke="#9a9a9a" stroke-width="0.6" fill="none" />
<polygon points="717.5,203.5 718.49,207.02 716.51,207.02" fill="#333" stroke="none" stroke-width="0" />
<polyline points="717,213.3 644,213.3 644,203.5" stroke="#9a9a9a" stroke-width="0.6" fill="none" />
<polygon points="644,203.5 644.99,207.02 643.01,207.02" fill="#333" stroke="none" stroke-width="0" />
<polyline points="738,248.5 628,248.5" stroke="#9a9a9a" stroke-width="0.6" fill="none" />
<polygon points="628,248.5 631.52,247.51 631.52,249.49" fill="#333" stroke="none" stroke-width="0" />
<polyline points="738,285 642,285" stroke="#9a9a9a" stroke-width="0.6" fill="none" />
<polygon points="642,285 645.52,284.01 645.52,285.99" fill="#333" stroke="none" stroke-width="0" />
<polyline points="738,317.5 660.5,317.5" stroke="#9a9a9a" stroke-width="0.6" fill="none" />
<polygon points="660.5,317.5 664.02,316.51 664.02,318.49" fill="#333" stroke="none" stroke-width="0" />
<polyline points="660,274.5 668,274.5 668,347.5" stroke="#c8c8c8" stroke-width="0.7" fill="none" />
<line x1="666" y1="272" x2="671" y2="277" stroke="#444" stroke-width="0.9" />
<line x1="666" y1="345" x2="671" y2="350" stroke="#444" stroke-width="0.9" />
<text transform="translate(665.5 308) rotate(-90)" font-size="3.6" text-anchor="middle" fill="#666">1.19</text>
<polyline points="745,345.5 697.5,345.5 697.5,353" stroke="#9a9a9a" stroke-width="0.6" fill="none" />
<polygon points="697.5,353 696.51,349.48 698.49,349.48" fill="#333" stroke="none" stroke-width="0" />
<polyline points="745,376.7 737,376.7" stroke="#333" stroke-width="0.6" fill="none" />
<polygon points="737,376.7 740.52,375.71 740.52,377.69" fill="#333" stroke="none" stroke-width="0" />
<polyline points="751,395 717.5,395 717.5,386.5" stroke="#9a9a9a" stroke-width="0.6" fill="none" />
<polygon points="717.5,386.5 718.49,390.02 716.51,390.02" fill="#333" stroke="none" stroke-width="0" />
<polyline points="717,395 644,395 644,386.5" stroke="#9a9a9a" stroke-width="0.6" fill="none" />
<polygon points="644,386.5 644.99,390.02 643.01,390.02" fill="#333" stroke="none" stroke-width="0" />
<text x="498" y="163.5" font-size="3.6" text-anchor="start" fill="#c8c8c8" >1 : 20</text>
<text x="451.3" y="133.3" font-size="7.0" text-anchor="start" fill="#1a1a1a" xml:space="preserve">Tubería de</text>
<text x="451.3" y="141.1" font-size="7.0" text-anchor="start" fill="#1a1a1a" xml:space="preserve">desague Ø 2"</text>
<text x="451.3" y="192.8" font-size="7.0" text-anchor="start" fill="#1a1a1a" xml:space="preserve">Ducto de</text>
<text x="451.3" y="200.6" font-size="7.0" text-anchor="start" fill="#1a1a1a" xml:space="preserve">suministro de</text>
<text x="451.3" y="208.4" font-size="7.0" text-anchor="start" fill="#1a1a1a" xml:space="preserve">aire  8" x 8"</text>
<text x="451.3" y="264.2" font-size="7.0" text-anchor="start" fill="#1a1a1a" xml:space="preserve">Tubería de</text>
<text x="451.3" y="272" font-size="7.0" text-anchor="start" fill="#1a1a1a" xml:space="preserve">desague Ø 4"</text>
<text x="451.3" y="316.3" font-size="7.0" text-anchor="start" fill="#1a1a1a" xml:space="preserve">Tubería de</text>
<text x="451.3" y="324.1" font-size="7.0" text-anchor="start" fill="#1a1a1a" xml:space="preserve">desague Ø 2"</text>
<text x="451.3" y="344.7" font-size="7.0" text-anchor="start" fill="#1a1a1a" xml:space="preserve">Tubería de</text>
<text x="451.3" y="352.5" font-size="7.0" text-anchor="start" fill="#1a1a1a" xml:space="preserve">agua fría PVC</text>
<text x="451.3" y="360.3" font-size="7.0" text-anchor="start" fill="#1a1a1a" xml:space="preserve">pavco Ø 3/4"</text>
<text x="451.3" y="377.5" font-size="7.0" text-anchor="start" fill="#1a1a1a" xml:space="preserve">Tubería de</text>
<text x="451.3" y="385.3" font-size="7.0" text-anchor="start" fill="#1a1a1a" xml:space="preserve">agua caliente</text>
<text x="451.3" y="393.1" font-size="7.0" text-anchor="start" fill="#1a1a1a" xml:space="preserve">CPVC pavco Ø</text>
<text x="451.3" y="400.9" font-size="7.0" text-anchor="start" fill="#1a1a1a" xml:space="preserve">1/2"</text>
<text x="790.8" y="93.7" font-size="7.0" text-anchor="end" fill="#1a1a1a" xml:space="preserve">Tubería de</text>
<text x="790.8" y="101.5" font-size="7.0" text-anchor="end" fill="#1a1a1a" xml:space="preserve">agua fría PVC</text>
<text x="790.8" y="109.3" font-size="7.0" text-anchor="end" fill="#1a1a1a" xml:space="preserve">pavco Ø 3/4"</text>
<text x="790.8" y="122.2" font-size="7.0" text-anchor="end" fill="#1a1a1a" xml:space="preserve">Tubería de</text>
<text x="790.8" y="130" font-size="7.0" text-anchor="end" fill="#1a1a1a" xml:space="preserve">agua caliente</text>
<text x="790.8" y="137.8" font-size="7.0" text-anchor="end" fill="#1a1a1a" xml:space="preserve">CPVC pavco Ø</text>
<text x="790.8" y="145.6" font-size="7.0" text-anchor="end" fill="#1a1a1a" xml:space="preserve">1/2"</text>
<text x="790.8" y="155" font-size="7.0" text-anchor="end" fill="#1a1a1a" xml:space="preserve">Tubería de</text>
<text x="790.8" y="162.8" font-size="7.0" text-anchor="end" fill="#1a1a1a" xml:space="preserve">agua fría PVC</text>
<text x="790.8" y="170.6" font-size="7.0" text-anchor="end" fill="#1a1a1a" xml:space="preserve">pavco Ø 3/4"</text>
<text x="790.8" y="188.7" font-size="7.0" text-anchor="end" fill="#1a1a1a" xml:space="preserve">Ducto de</text>
<text x="790.8" y="196.5" font-size="7.0" text-anchor="end" fill="#1a1a1a" xml:space="preserve">suministro de</text>
<text x="790.8" y="204.3" font-size="7.0" text-anchor="end" fill="#1a1a1a" xml:space="preserve">aire  8" x 8"</text>
<text x="790.8" y="215.5" font-size="7.0" text-anchor="end" fill="#1a1a1a" xml:space="preserve">Terminal de</text>
<text x="790.8" y="223.3" font-size="7.0" text-anchor="end" fill="#1a1a1a" xml:space="preserve">Aire 9" x 9"</text>
<text x="790.8" y="243" font-size="7.0" text-anchor="end" fill="#1a1a1a" xml:space="preserve">Tubería de</text>
<text x="790.8" y="250.8" font-size="7.0" text-anchor="end" fill="#1a1a1a" xml:space="preserve">ventilación pvc</text>
<text x="790.8" y="258.6" font-size="7.0" text-anchor="end" fill="#1a1a1a" xml:space="preserve">Ø 2"</text>
<text x="790.8" y="279.7" font-size="7.0" text-anchor="end" fill="#1a1a1a" xml:space="preserve">Tubería de</text>
<text x="790.8" y="287.5" font-size="7.0" text-anchor="end" fill="#1a1a1a" xml:space="preserve">agua fría PVC</text>
<text x="790.8" y="295.3" font-size="7.0" text-anchor="end" fill="#1a1a1a" xml:space="preserve">pavco Ø 3/4"</text>
<text x="790.8" y="308" font-size="7.0" text-anchor="end" fill="#1a1a1a" xml:space="preserve">Tubería de</text>
<text x="790.8" y="315.8" font-size="7.0" text-anchor="end" fill="#1a1a1a" xml:space="preserve">agua caliente</text>
<text x="790.8" y="323.6" font-size="7.0" text-anchor="end" fill="#1a1a1a" xml:space="preserve">CPVC pavco Ø</text>
<text x="790.8" y="331.4" font-size="7.0" text-anchor="end" fill="#1a1a1a" xml:space="preserve">1/2"</text>
<text x="790.8" y="340.8" font-size="7.0" text-anchor="end" fill="#1a1a1a" xml:space="preserve">Tubería de</text>
<text x="790.8" y="348.6" font-size="7.0" text-anchor="end" fill="#1a1a1a" xml:space="preserve">agua fría PVC</text>
<text x="790.8" y="356.4" font-size="7.0" text-anchor="end" fill="#1a1a1a" xml:space="preserve">pavco Ø 3/4"</text>
<text x="790.8" y="370.3" font-size="7.0" text-anchor="end" fill="#1a1a1a" xml:space="preserve">Ducto de</text>
<text x="790.8" y="378.1" font-size="7.0" text-anchor="end" fill="#1a1a1a" xml:space="preserve">suministro de</text>
<text x="790.8" y="385.9" font-size="7.0" text-anchor="end" fill="#1a1a1a" xml:space="preserve">aire  8" x 8"</text>
<text x="790.8" y="397.2" font-size="7.0" text-anchor="end" fill="#1a1a1a" xml:space="preserve">Terminal de</text>
<text x="790.8" y="405" font-size="7.0" text-anchor="end" fill="#1a1a1a" xml:space="preserve">Aire 9" x 9"</text>
<circle cx="507.5" cy="430.5" r="9.6" fill="#fff" stroke="#bdbdbd" stroke-width="0.8" />
<text x="507.5" y="435.1" font-size="12.4" text-anchor="middle" fill="#0a0a0a" style="stroke:#0a0a0a;stroke-width:0.25px">12</text>
<text x="523" y="425.8" font-size="13.0" text-anchor="start" fill="#050505" style="stroke:#050505;stroke-width:0.3px">Corte A-A - Z. SSHH 05</text>
</g>
<g id="corteBB">
<polygon points="871.7,44.7 1095.5,44.7 1095.5,400.8 871.7,400.8" stroke="#bdbdbd" stroke-width="0.9" fill="none" />
<line x1="973.3" y1="44.7" x2="973.3" y2="400.8" stroke="#d6d6d6" stroke-width="0.8" />
<line x1="871.7" y1="163.3" x2="1095.5" y2="163.3" stroke="#c6c6c6" stroke-width="1.1" />
<line x1="871.7" y1="166" x2="1095.5" y2="166" stroke="#e4e4e4" stroke-width="0.7" />
<line x1="871.7" y1="346.3" x2="1095.5" y2="346.3" stroke="#c6c6c6" stroke-width="1.1" />
<line x1="871.7" y1="349" x2="1095.5" y2="349" stroke="#e4e4e4" stroke-width="0.7" />
<line x1="833" y1="163.3" x2="871.7" y2="163.3" stroke="#c6c6c6" stroke-width="0.8" />
<line x1="1052" y1="339.5" x2="1095.5" y2="339.5" stroke="#d0d0d0" stroke-width="0.7" />
<line x1="1000" y1="391.3" x2="1088" y2="391.3" stroke="#c8c8c8" stroke-width="0.8" />
<polyline points="1000,383 1004,391.3" stroke="#444" stroke-width="0.8" fill="none" />
<rect x="871.7" y="174.5" width="223.8" height="7.6" fill="#d8a87c" stroke="none" stroke-width="0" />
<rect x="871.7" y="172" width="223.8" height="2.8" fill="#a3194a" stroke="none" stroke-width="0" />
<rect x="871.7" y="170.9" width="223.8" height="1.6" fill="#1010b0" stroke="none" stroke-width="0" />
<rect x="871.7" y="357.5" width="223.8" height="7.6" fill="#d8a87c" stroke="none" stroke-width="0" />
<rect x="871.7" y="355" width="223.8" height="2.8" fill="#a3194a" stroke="none" stroke-width="0" />
<rect x="871.7" y="353.9" width="223.8" height="1.6" fill="#1010b0" stroke="none" stroke-width="0" />
<polygon points="924.4,188 935.2,188 935.2,191.7 924.4,191.7" fill="#e8541a" stroke="none" stroke-width="0" />
<polygon points="923.4,191.7 936.2,191.7 947.3,198 912.3,198" fill="#f6a4d6" stroke="none" stroke-width="0" />
<line x1="925.2" y1="202" x2="926.4" y2="204.6" stroke="#7a7a8a" stroke-width="0.7" />
<line x1="933.2" y1="202" x2="934.4" y2="204.6" stroke="#5a7aa0" stroke-width="0.7" />
<line x1="929.8" y1="211.5" x2="929.8" y2="206.4" stroke="#000" stroke-width="1.3" />
<polygon points="929.8,203.5 932.1,206.9 927.5,206.9" fill="#000" stroke="none" stroke-width="0" />
<polygon points="1070.05,185.8 1082.55,185.8 1082.55,191.7 1070.05,191.7" fill="#dca77c" stroke="none" stroke-width="0" />
<polygon points="1069.05,191.7 1083.55,191.7 1093.5,198 1059.1,198" fill="#f6a4d6" stroke="none" stroke-width="0" />
<line x1="1071.7" y1="202" x2="1072.9" y2="204.6" stroke="#7a7a8a" stroke-width="0.7" />
<line x1="1079.7" y1="202" x2="1080.9" y2="204.6" stroke="#5a7aa0" stroke-width="0.7" />
<line x1="1076.3" y1="211.5" x2="1076.3" y2="206.4" stroke="#000" stroke-width="1.3" />
<polygon points="1076.3,203.5 1078.6,206.9 1074,206.9" fill="#000" stroke="none" stroke-width="0" />
<rect x="1070" y="182" width="12.5" height="4" fill="#fbe5d2" stroke="none" stroke-width="0" />
<polygon points="925.8,365 934.2,365 936.7,374 923.3,374" fill="#f0600f" stroke="none" stroke-width="0" />
<polygon points="922.3,374 937.7,374 947,380.6 913,380.6" fill="#f6a4d6" stroke="none" stroke-width="0" />
<line x1="925.4" y1="384.6" x2="926.6" y2="387.2" stroke="#7a7a8a" stroke-width="0.7" />
<line x1="933.4" y1="384.6" x2="934.6" y2="387.2" stroke="#5a7aa0" stroke-width="0.7" />
<line x1="930" y1="394.1" x2="930" y2="389" stroke="#000" stroke-width="1.3" />
<polygon points="930,386.1 932.3,389.5 927.7,389.5" fill="#000" stroke="none" stroke-width="0" />
<rect x="1072" y="364" width="8.8" height="37" fill="#dba77b" stroke="none" stroke-width="0" />
<polygon points="1068,375 1085,375 1093.3,380.8 1058.3,380.8" fill="#f6a4d6" stroke="none" stroke-width="0" />
<line x1="1076.5" y1="392" x2="1076.5" y2="386.4" stroke="#000" stroke-width="1.3" />
<polygon points="1076.5,383.5 1078.8,386.9 1074.2,386.9" fill="#000" stroke="none" stroke-width="0" />
<polyline points="1095,369.5 1088.5,369.5 1088.5,377" stroke="#c8c8c8" stroke-width="0.6" fill="none" />
<polygon points="1088.5,377 1087.51,373.48 1089.49,373.48" fill="#333" stroke="none" stroke-width="0" />
<rect x="990" y="44.7" width="4.4" height="356" fill="#14dde0" stroke="none" stroke-width="0" />
<rect x="990" y="44.7" width="1.2" height="356" fill="#0b9397" stroke="none" stroke-width="0" />
<polyline points="949.5,89.7 953.5,89.7 953.5,171.5" stroke="#1010b0" stroke-width="1.6" fill="none" />
<line x1="955.3" y1="91.5" x2="955.3" y2="171" stroke="#c22a2a" stroke-width="1.1" />
<line x1="950" y1="150.3" x2="953.5" y2="150.3" stroke="#1010b0" stroke-width="1.2" />
<polyline points="1003.8,89.7 999.7,89.7 999.7,171.5" stroke="#1010b0" stroke-width="1.6" fill="none" />
<line x1="999.7" y1="150.3" x2="1003" y2="150.3" stroke="#1010b0" stroke-width="1.2" />
<rect x="898" y="105" width="51.2" height="20.8" fill="#cacaca" stroke="none" stroke-width="0" />
<rect x="922.5" y="138.3" width="26.5" height="1.7" fill="#d6d6d6" stroke="none" stroke-width="0" />
<rect x="937" y="140" width="7.2" height="8.3" fill="#dadada" stroke="none" stroke-width="0" />
<rect x="923.3" y="148.3" width="20.9" height="14.7" fill="#d2d2d2" stroke="none" stroke-width="0" />
<rect x="922.5" y="140" width="14.5" height="8.3" fill="#7c7c7c" stroke="none" stroke-width="0" />
<polygon points="910.5,138.3 922.5,138.3 922.5,140 917,146" fill="#4a4a55" stroke="none" stroke-width="0" />
<path d="M909.2,103 H933.2 C933.2,109 928.2,113.5 921.2,113.5 C914.2,113.5 909.2,109 909.2,103 Z" fill="url(#bowlS)" stroke="#a8a8a8" stroke-width="0.4" />
<line x1="921.2" y1="95.8" x2="921.2" y2="113" stroke="#8d8d8d" stroke-width="1.2" />
<line x1="915.3" y1="119.2" x2="915.3" y2="171.7" stroke="#1010b0" stroke-width="1.5" />
<line x1="927.5" y1="119.2" x2="927.5" y2="171.7" stroke="#b32a2a" stroke-width="1.4" />
<rect x="918.2" y="119" width="4.2" height="57" fill="#057c0c" stroke="none" stroke-width="0" />
<rect x="918.75" y="119" width="3.65" height="57" fill="#08a814" stroke="none" stroke-width="0" />
<rect x="919.38" y="119" width="1.26" height="57" fill="#1cc828" stroke="none" stroke-width="0" />
<rect x="918.2" y="119" width="0.42" height="57" fill="#03590a" stroke="none" stroke-width="0" />
<circle cx="920.3" cy="119.2" r="2.1" fill="#08a814" stroke="none" stroke-width="0" />
<rect x="919.4" y="163" width="5.6" height="13" fill="#057c0c" stroke="none" stroke-width="0" />
<rect x="920.13" y="163" width="4.87" height="13" fill="#08a814" stroke="none" stroke-width="0" />
<rect x="920.97" y="163" width="1.68" height="13" fill="#1cc828" stroke="none" stroke-width="0" />
<rect x="919.4" y="163" width="0.56" height="13" fill="#03590a" stroke="none" stroke-width="0" />
<rect x="927.6" y="163" width="6.4" height="13" fill="#057c0c" stroke="none" stroke-width="0" />
<rect x="928.43" y="163" width="5.57" height="13" fill="#08a814" stroke="none" stroke-width="0" />
<rect x="929.39" y="163" width="1.92" height="13" fill="#1cc828" stroke="none" stroke-width="0" />
<rect x="927.6" y="163" width="0.64" height="13" fill="#03590a" stroke="none" stroke-width="0" />
<rect x="1004.3" y="105" width="51.2" height="20.8" fill="#cacaca" stroke="none" stroke-width="0" />
<rect x="1004.5" y="138.3" width="26.5" height="1.7" fill="#d6d6d6" stroke="none" stroke-width="0" />
<rect x="1009.3" y="140" width="7.2" height="8.3" fill="#dadada" stroke="none" stroke-width="0" />
<rect x="1009.3" y="148.3" width="20.9" height="14.7" fill="#d2d2d2" stroke="none" stroke-width="0" />
<rect x="1016.5" y="140" width="14.5" height="8.3" fill="#7c7c7c" stroke="none" stroke-width="0" />
<polygon points="1043,138.3 1031,138.3 1031,140 1036.5,146" fill="#4a4a55" stroke="none" stroke-width="0" />
<path d="M1020.3,103 H1044.3 C1044.3,109 1039.3,113.5 1032.3,113.5 C1025.3,113.5 1020.3,109 1020.3,103 Z" fill="url(#bowlS)" stroke="#a8a8a8" stroke-width="0.4" />
<line x1="1032.3" y1="95.8" x2="1032.3" y2="113" stroke="#8d8d8d" stroke-width="1.2" />
<line x1="1038.2" y1="119.2" x2="1038.2" y2="171.7" stroke="#1010b0" stroke-width="1.5" />
<line x1="1026" y1="119.2" x2="1026" y2="171.7" stroke="#b32a2a" stroke-width="1.4" />
<rect x="1031.1" y="119" width="4.2" height="57" fill="#057c0c" stroke="none" stroke-width="0" />
<rect x="1031.65" y="119" width="3.65" height="57" fill="#08a814" stroke="none" stroke-width="0" />
<rect x="1032.28" y="119" width="1.26" height="57" fill="#1cc828" stroke="none" stroke-width="0" />
<rect x="1031.1" y="119" width="0.42" height="57" fill="#03590a" stroke="none" stroke-width="0" />
<circle cx="1033.2" cy="119.2" r="2.1" fill="#08a814" stroke="none" stroke-width="0" />
<rect x="1028.5" y="163" width="5.6" height="13" fill="#057c0c" stroke="none" stroke-width="0" />
<rect x="1029.23" y="163" width="4.87" height="13" fill="#08a814" stroke="none" stroke-width="0" />
<rect x="1030.07" y="163" width="1.68" height="13" fill="#1cc828" stroke="none" stroke-width="0" />
<rect x="1028.5" y="163" width="0.56" height="13" fill="#03590a" stroke="none" stroke-width="0" />
<rect x="1019.5" y="163" width="6.4" height="13" fill="#057c0c" stroke="none" stroke-width="0" />
<rect x="1020.33" y="163" width="5.57" height="13" fill="#08a814" stroke="none" stroke-width="0" />
<rect x="1021.29" y="163" width="1.92" height="13" fill="#1cc828" stroke="none" stroke-width="0" />
<rect x="1019.5" y="163" width="0.64" height="13" fill="#03590a" stroke="none" stroke-width="0" />
<polyline points="949.5,272.7 953.5,272.7 953.5,354.5" stroke="#1010b0" stroke-width="1.6" fill="none" />
<line x1="955.3" y1="274.5" x2="955.3" y2="354" stroke="#c22a2a" stroke-width="1.1" />
<line x1="950" y1="333.3" x2="953.5" y2="333.3" stroke="#1010b0" stroke-width="1.2" />
<polyline points="1003.8,272.7 999.7,272.7 999.7,354.5" stroke="#1010b0" stroke-width="1.6" fill="none" />
<line x1="999.7" y1="333.3" x2="1003" y2="333.3" stroke="#1010b0" stroke-width="1.2" />
<rect x="898" y="288" width="51.2" height="20.8" fill="#cacaca" stroke="none" stroke-width="0" />
<rect x="922.5" y="321.3" width="26.5" height="1.7" fill="#d6d6d6" stroke="none" stroke-width="0" />
<rect x="937" y="323" width="7.2" height="8.3" fill="#dadada" stroke="none" stroke-width="0" />
<rect x="923.3" y="331.3" width="20.9" height="14.7" fill="#d2d2d2" stroke="none" stroke-width="0" />
<rect x="922.5" y="323" width="14.5" height="8.3" fill="#7c7c7c" stroke="none" stroke-width="0" />
<polygon points="910.5,321.3 922.5,321.3 922.5,323 917,329" fill="#4a4a55" stroke="none" stroke-width="0" />
<path d="M909.2,286 H933.2 C933.2,292 928.2,296.5 921.2,296.5 C914.2,296.5 909.2,292 909.2,286 Z" fill="url(#bowlS)" stroke="#a8a8a8" stroke-width="0.4" />
<line x1="921.2" y1="278.8" x2="921.2" y2="296" stroke="#8d8d8d" stroke-width="1.2" />
<line x1="915.3" y1="302.2" x2="915.3" y2="354.7" stroke="#1010b0" stroke-width="1.5" />
<line x1="927.5" y1="302.2" x2="927.5" y2="354.7" stroke="#b32a2a" stroke-width="1.4" />
<rect x="918.2" y="302" width="4.2" height="57" fill="#057c0c" stroke="none" stroke-width="0" />
<rect x="918.75" y="302" width="3.65" height="57" fill="#08a814" stroke="none" stroke-width="0" />
<rect x="919.38" y="302" width="1.26" height="57" fill="#1cc828" stroke="none" stroke-width="0" />
<rect x="918.2" y="302" width="0.42" height="57" fill="#03590a" stroke="none" stroke-width="0" />
<circle cx="920.3" cy="302.2" r="2.1" fill="#08a814" stroke="none" stroke-width="0" />
<rect x="919.4" y="346" width="5.6" height="13" fill="#057c0c" stroke="none" stroke-width="0" />
<rect x="920.13" y="346" width="4.87" height="13" fill="#08a814" stroke="none" stroke-width="0" />
<rect x="920.97" y="346" width="1.68" height="13" fill="#1cc828" stroke="none" stroke-width="0" />
<rect x="919.4" y="346" width="0.56" height="13" fill="#03590a" stroke="none" stroke-width="0" />
<rect x="927.6" y="346" width="6.4" height="13" fill="#057c0c" stroke="none" stroke-width="0" />
<rect x="928.43" y="346" width="5.57" height="13" fill="#08a814" stroke="none" stroke-width="0" />
<rect x="929.39" y="346" width="1.92" height="13" fill="#1cc828" stroke="none" stroke-width="0" />
<rect x="927.6" y="346" width="0.64" height="13" fill="#03590a" stroke="none" stroke-width="0" />
<rect x="1004.3" y="288" width="51.2" height="20.8" fill="#cacaca" stroke="none" stroke-width="0" />
<rect x="1004.5" y="321.3" width="26.5" height="1.7" fill="#d6d6d6" stroke="none" stroke-width="0" />
<rect x="1009.3" y="323" width="7.2" height="8.3" fill="#dadada" stroke="none" stroke-width="0" />
<rect x="1009.3" y="331.3" width="20.9" height="14.7" fill="#d2d2d2" stroke="none" stroke-width="0" />
<rect x="1016.5" y="323" width="14.5" height="8.3" fill="#7c7c7c" stroke="none" stroke-width="0" />
<polygon points="1043,321.3 1031,321.3 1031,323 1036.5,329" fill="#4a4a55" stroke="none" stroke-width="0" />
<path d="M1020.3,286 H1044.3 C1044.3,292 1039.3,296.5 1032.3,296.5 C1025.3,296.5 1020.3,292 1020.3,286 Z" fill="url(#bowlS)" stroke="#a8a8a8" stroke-width="0.4" />
<line x1="1032.3" y1="278.8" x2="1032.3" y2="296" stroke="#8d8d8d" stroke-width="1.2" />
<line x1="1038.2" y1="302.2" x2="1038.2" y2="354.7" stroke="#1010b0" stroke-width="1.5" />
<line x1="1026" y1="302.2" x2="1026" y2="354.7" stroke="#b32a2a" stroke-width="1.4" />
<rect x="1031.1" y="302" width="4.2" height="57" fill="#057c0c" stroke="none" stroke-width="0" />
<rect x="1031.65" y="302" width="3.65" height="57" fill="#08a814" stroke="none" stroke-width="0" />
<rect x="1032.28" y="302" width="1.26" height="57" fill="#1cc828" stroke="none" stroke-width="0" />
<rect x="1031.1" y="302" width="0.42" height="57" fill="#03590a" stroke="none" stroke-width="0" />
<circle cx="1033.2" cy="302.2" r="2.1" fill="#08a814" stroke="none" stroke-width="0" />
<rect x="1028.5" y="346" width="5.6" height="13" fill="#057c0c" stroke="none" stroke-width="0" />
<rect x="1029.23" y="346" width="4.87" height="13" fill="#08a814" stroke="none" stroke-width="0" />
<rect x="1030.07" y="346" width="1.68" height="13" fill="#1cc828" stroke="none" stroke-width="0" />
<rect x="1028.5" y="346" width="0.56" height="13" fill="#03590a" stroke="none" stroke-width="0" />
<rect x="1019.5" y="346" width="6.4" height="13" fill="#057c0c" stroke="none" stroke-width="0" />
<rect x="1020.33" y="346" width="5.57" height="13" fill="#08a814" stroke="none" stroke-width="0" />
<rect x="1021.29" y="346" width="1.92" height="13" fill="#1cc828" stroke="none" stroke-width="0" />
<rect x="1019.5" y="346" width="0.64" height="13" fill="#03590a" stroke="none" stroke-width="0" />
<rect x="899" y="174.9" width="59" height="6.2" fill="#057c0c" stroke="none" stroke-width="0" />
<rect x="899" y="175.15" width="59" height="4.71" fill="#08a814" stroke="none" stroke-width="0" />
<rect x="899" y="176.02" width="59" height="1.74" fill="#1cc828" stroke="none" stroke-width="0" />
<rect x="899" y="180" width="59" height="1.8" fill="#034d08" stroke="none" stroke-width="0" />
<polyline points="901.2,163.5 901.2,171 898.5,175 899.5,178 904,178.5" stroke="#057c0c" stroke-width="4.2" fill="none" stroke-linecap="round" stroke-linejoin="round"/>
<polyline points="900.82,163.12 900.82,170.62 898.12,174.62 899.12,177.62 903.62,178.12" stroke="#08a814" stroke-width="3.53" fill="none" stroke-linecap="round" stroke-linejoin="round"/>
<polyline points="900.44,162.74 900.44,170.24 897.74,174.24 898.74,177.24 903.24,177.74" stroke="#1cc828" stroke-width="1.26" fill="none" stroke-linecap="round" stroke-linejoin="round"/>
<rect x="990" y="174.9" width="62" height="6.2" fill="#057c0c" stroke="none" stroke-width="0" />
<rect x="990" y="175.15" width="62" height="4.71" fill="#08a814" stroke="none" stroke-width="0" />
<rect x="990" y="176.02" width="62" height="1.74" fill="#1cc828" stroke="none" stroke-width="0" />
<rect x="996" y="180" width="52" height="1.8" fill="#034d08" stroke="none" stroke-width="0" />
<polyline points="1050,167.5 1053,171 1053.5,176 1050,178.6" stroke="#057c0c" stroke-width="4.4" fill="none" stroke-linecap="round" stroke-linejoin="round"/>
<polyline points="1049.6,167.1 1052.6,170.6 1053.1,175.6 1049.6,178.2" stroke="#08a814" stroke-width="3.7" fill="none" stroke-linecap="round" stroke-linejoin="round"/>
<polyline points="1049.21,166.71 1052.21,170.21 1052.71,175.21 1049.21,177.81" stroke="#1cc828" stroke-width="1.32" fill="none" stroke-linecap="round" stroke-linejoin="round"/>
<polyline points="1000,177.5 993,177.8 990.8,181 990.8,205 988.5,210.5 984,211.8 965,211.8" stroke="#057c0c" stroke-width="6.2" fill="none" stroke-linecap="round" stroke-linejoin="round"/>
<polyline points="999.44,176.94 992.44,177.24 990.24,180.44 990.24,204.44 987.94,209.94 983.44,211.24 964.44,211.24" stroke="#08a814" stroke-width="5.21" fill="none" stroke-linecap="round" stroke-linejoin="round"/>
<polyline points="998.88,176.38 991.88,176.68 989.68,179.88 989.68,203.88 987.38,209.38 982.88,210.68 963.88,210.68" stroke="#1cc828" stroke-width="1.86" fill="none" stroke-linecap="round" stroke-linejoin="round"/>
<rect x="899" y="357.9" width="59" height="6.2" fill="#057c0c" stroke="none" stroke-width="0" />
<rect x="899" y="358.15" width="59" height="4.71" fill="#08a814" stroke="none" stroke-width="0" />
<rect x="899" y="359.02" width="59" height="1.74" fill="#1cc828" stroke="none" stroke-width="0" />
<rect x="899" y="363" width="59" height="1.8" fill="#034d08" stroke="none" stroke-width="0" />
<polyline points="901.2,346.5 901.2,354 898.5,358 899.5,361 904,361.5" stroke="#057c0c" stroke-width="4.2" fill="none" stroke-linecap="round" stroke-linejoin="round"/>
<polyline points="900.82,346.12 900.82,353.62 898.12,357.62 899.12,360.62 903.62,361.12" stroke="#08a814" stroke-width="3.53" fill="none" stroke-linecap="round" stroke-linejoin="round"/>
<polyline points="900.44,345.74 900.44,353.24 897.74,357.24 898.74,360.24 903.24,360.74" stroke="#1cc828" stroke-width="1.26" fill="none" stroke-linecap="round" stroke-linejoin="round"/>
<rect x="990" y="357.9" width="62" height="6.2" fill="#057c0c" stroke="none" stroke-width="0" />
<rect x="990" y="358.15" width="62" height="4.71" fill="#08a814" stroke="none" stroke-width="0" />
<rect x="990" y="359.02" width="62" height="1.74" fill="#1cc828" stroke="none" stroke-width="0" />
<rect x="996" y="363" width="52" height="1.8" fill="#034d08" stroke="none" stroke-width="0" />
<polyline points="1050,350.5 1053,354 1053.5,359 1050,361.6" stroke="#057c0c" stroke-width="4.4" fill="none" stroke-linecap="round" stroke-linejoin="round"/>
<polyline points="1049.6,350.1 1052.6,353.6 1053.1,358.6 1049.6,361.2" stroke="#08a814" stroke-width="3.7" fill="none" stroke-linecap="round" stroke-linejoin="round"/>
<polyline points="1049.21,349.71 1052.21,353.21 1052.71,358.21 1049.21,360.81" stroke="#1cc828" stroke-width="1.32" fill="none" stroke-linecap="round" stroke-linejoin="round"/>
<polyline points="1000,360.5 993,360.8 990.8,364 990.8,388 988.5,393.5 984,394.8 965,394.8" stroke="#057c0c" stroke-width="6.2" fill="none" stroke-linecap="round" stroke-linejoin="round"/>
<polyline points="999.44,359.94 992.44,360.24 990.24,363.44 990.24,387.44 987.94,392.94 983.44,394.24 964.44,394.24" stroke="#08a814" stroke-width="5.21" fill="none" stroke-linecap="round" stroke-linejoin="round"/>
<polyline points="998.88,359.38 991.88,359.68 989.68,362.88 989.68,386.88 987.38,392.38 982.88,393.68 963.88,393.68" stroke="#1cc828" stroke-width="1.86" fill="none" stroke-linecap="round" stroke-linejoin="round"/>
<rect x="925.8" y="175" width="8.4" height="7" fill="#8c8c8c" stroke="none" stroke-width="0" />
<rect x="925.8" y="358" width="8.4" height="6" fill="#7a7a7a" stroke="none" stroke-width="0" />
<rect x="957.4" y="44.7" width="7.6" height="356.1" fill="#057c0c" stroke="none" stroke-width="0" />
<rect x="958.39" y="44.7" width="6.61" height="356.1" fill="#08a814" stroke="none" stroke-width="0" />
<rect x="959.53" y="44.7" width="2.28" height="356.1" fill="#1cc828" stroke="none" stroke-width="0" />
<rect x="957.4" y="44.7" width="0.76" height="356.1" fill="#03590a" stroke="none" stroke-width="0" />
<line x1="957" y1="179" x2="965" y2="179" stroke="#6fe07a" stroke-width="0.5" />
<line x1="957" y1="362" x2="965" y2="362" stroke="#6fe07a" stroke-width="0.5" />
<line x1="874" y1="167" x2="883.3" y2="167" stroke="#000" stroke-width="1.6" />
<polygon points="886.7,167 882.8,169.6 882.8,164.4" fill="#000" stroke="none" stroke-width="0" />
<line x1="1081" y1="167" x2="1071.9" y2="167" stroke="#000" stroke-width="1.6" />
<polygon points="1068.5,167 1072.4,164.4 1072.4,169.6" fill="#000" stroke="none" stroke-width="0" />
<line x1="900" y1="186.3" x2="908.6" y2="186.3" stroke="#000" stroke-width="1.6" />
<polygon points="912,186.3 908.1,188.9 908.1,183.7" fill="#000" stroke="none" stroke-width="0" />
<line x1="936" y1="186.3" x2="944.9" y2="186.3" stroke="#000" stroke-width="1.6" />
<polygon points="948.3,186.3 944.4,188.9 944.4,183.7" fill="#000" stroke="none" stroke-width="0" />
<line x1="1015" y1="186.3" x2="1006.4" y2="186.3" stroke="#000" stroke-width="1.6" />
<polygon points="1003,186.3 1006.9,183.7 1006.9,188.9" fill="#000" stroke="none" stroke-width="0" />
<line x1="1050" y1="186.3" x2="1041.4" y2="186.3" stroke="#000" stroke-width="1.6" />
<polygon points="1038,186.3 1041.9,183.7 1041.9,188.9" fill="#000" stroke="none" stroke-width="0" />
<line x1="967.7" y1="186" x2="967.7" y2="194.6" stroke="#000" stroke-width="1.6" />
<polygon points="967.7,198 965.1,194.1 970.3,194.1" fill="#000" stroke="none" stroke-width="0" />
<line x1="984" y1="186" x2="984" y2="194.6" stroke="#000" stroke-width="1.6" />
<polygon points="984,198 981.4,194.1 986.6,194.1" fill="#000" stroke="none" stroke-width="0" />
<line x1="981" y1="204.5" x2="971.9" y2="204.5" stroke="#000" stroke-width="1.6" />
<polygon points="968.5,204.5 972.4,201.9 972.4,207.1" fill="#000" stroke="none" stroke-width="0" />
<line x1="874" y1="350" x2="883.3" y2="350" stroke="#000" stroke-width="1.6" />
<polygon points="886.7,350 882.8,352.6 882.8,347.4" fill="#000" stroke="none" stroke-width="0" />
<line x1="1081" y1="350" x2="1071.9" y2="350" stroke="#000" stroke-width="1.6" />
<polygon points="1068.5,350 1072.4,347.4 1072.4,352.6" fill="#000" stroke="none" stroke-width="0" />
<line x1="906.5" y1="369.3" x2="915.1" y2="369.3" stroke="#000" stroke-width="1.6" />
<polygon points="918.5,369.3 914.6,371.9 914.6,366.7" fill="#000" stroke="none" stroke-width="0" />
<line x1="937.5" y1="369.3" x2="946.6" y2="369.3" stroke="#000" stroke-width="1.6" />
<polygon points="950,369.3 946.1,371.9 946.1,366.7" fill="#000" stroke="none" stroke-width="0" />
<line x1="1015" y1="369.3" x2="1006.4" y2="369.3" stroke="#000" stroke-width="1.6" />
<polygon points="1003,369.3 1006.9,366.7 1006.9,371.9" fill="#000" stroke="none" stroke-width="0" />
<line x1="1050" y1="369.3" x2="1041.4" y2="369.3" stroke="#000" stroke-width="1.6" />
<polygon points="1038,369.3 1041.9,366.7 1041.9,371.9" fill="#000" stroke="none" stroke-width="0" />
<line x1="967.7" y1="370" x2="968.63" y2="378.62" stroke="#000" stroke-width="1.6" />
<polygon points="969,382 966,378.4 971.16,377.84" fill="#000" stroke="none" stroke-width="0" />
<line x1="983" y1="370" x2="983" y2="378.6" stroke="#000" stroke-width="1.6" />
<polygon points="983,382 980.4,378.1 985.6,378.1" fill="#000" stroke="none" stroke-width="0" />
<line x1="967.5" y1="68" x2="967.5" y2="76.6" stroke="#000" stroke-width="1.6" />
<polygon points="967.5,80 964.9,76.1 970.1,76.1" fill="#000" stroke="none" stroke-width="0" />
<line x1="966.7" y1="136.7" x2="966.7" y2="145.3" stroke="#000" stroke-width="1.6" />
<polygon points="966.7,148.7 964.1,144.8 969.3,144.8" fill="#000" stroke="none" stroke-width="0" />
<line x1="967.5" y1="293" x2="967.5" y2="301.6" stroke="#000" stroke-width="1.6" />
<polygon points="967.5,305 964.9,301.1 970.1,301.1" fill="#000" stroke="none" stroke-width="0" />
<line x1="985" y1="346" x2="985" y2="337.4" stroke="#000" stroke-width="1.6" />
<polygon points="985,334 987.6,337.9 982.4,337.9" fill="#000" stroke="none" stroke-width="0" />
<circle cx="827" cy="162.5" r="6" fill="#fff" stroke="#111" stroke-width="0.9" />
<path d="M827,162.5 L827,156.5 A6,6 0 0 0 821,162.5 Z" fill="#000" stroke="none" stroke-width="0" />
<path d="M827,162.5 L827,168.5 A6,6 0 0 0 833,162.5 Z" fill="#000" stroke="none" stroke-width="0" />
<text x="838.7" y="159.7" font-size="6.4" text-anchor="start" fill="#1a1a1a" style="stroke:none">ARQ Nivel 12</text>
<text x="838.7" y="169.8" font-size="6.4" text-anchor="start" fill="#3a3a3a" style="stroke:none">34.40</text>
<polyline points="1095.5,95.3 1041,95.3 1036,114" stroke="#9a9a9a" stroke-width="0.6" fill="none" />
<polygon points="1036,114 1035.95,110.34 1037.87,110.86" fill="#333" stroke="none" stroke-width="0" />
<polyline points="1095.5,121.7 1041,121.7" stroke="#9a9a9a" stroke-width="0.6" fill="none" />
<polygon points="1041,121.7 1044.52,120.71 1044.52,122.69" fill="#333" stroke="none" stroke-width="0" />
<polyline points="1095.5,153.5 1082,153.5 1082,169" stroke="#9a9a9a" stroke-width="0.6" fill="none" />
<polygon points="1082,169 1081.01,165.48 1082.99,165.48" fill="#333" stroke="none" stroke-width="0" />
<polyline points="1100,186.5 1090.5,186.5 1090.5,181" stroke="#c8c8c8" stroke-width="0.6" fill="none" />
<polygon points="1090.5,181 1091.49,184.52 1089.51,184.52" fill="#333" stroke="none" stroke-width="0" />
<polyline points="1095.5,209 1083,209 1083,201" stroke="#9a9a9a" stroke-width="0.6" fill="none" />
<polyline points="1095.5,239.5 998,239.5" stroke="#9a9a9a" stroke-width="0.6" fill="none" />
<polygon points="998,239.5 1001.52,238.51 1001.52,240.49" fill="#333" stroke="none" stroke-width="0" />
<polyline points="1095.5,279.8 1041,279.8 1036,297" stroke="#9a9a9a" stroke-width="0.6" fill="none" />
<polygon points="1036,297 1036.03,293.34 1037.93,293.9" fill="#333" stroke="none" stroke-width="0" />
<polyline points="1095.5,309.5 1041,309.5" stroke="#9a9a9a" stroke-width="0.6" fill="none" />
<polygon points="1041,309.5 1044.52,308.51 1044.52,310.49" fill="#333" stroke="none" stroke-width="0" />
<text x="1147.5" y="90" font-size="7.0" text-anchor="end" fill="#1a1a1a" xml:space="preserve">Tubería de</text>
<text x="1147.5" y="97.8" font-size="7.0" text-anchor="end" fill="#1a1a1a" xml:space="preserve">desague pvc Ø</text>
<text x="1147.5" y="105.6" font-size="7.0" text-anchor="end" fill="#1a1a1a" xml:space="preserve">2"</text>
<text x="1147.5" y="116.7" font-size="7.0" text-anchor="end" fill="#1a1a1a" xml:space="preserve">Tubería de</text>
<text x="1147.5" y="124.5" font-size="7.0" text-anchor="end" fill="#1a1a1a" xml:space="preserve">agua fría PVC</text>
<text x="1147.5" y="132.3" font-size="7.0" text-anchor="end" fill="#1a1a1a" xml:space="preserve">pavco Ø 3/4"</text>
<text x="1147.5" y="144.7" font-size="7.0" text-anchor="end" fill="#1a1a1a" xml:space="preserve">Tubería de</text>
<text x="1147.5" y="152.5" font-size="7.0" text-anchor="end" fill="#1a1a1a" xml:space="preserve">agua caliente</text>
<text x="1147.5" y="160.3" font-size="7.0" text-anchor="end" fill="#1a1a1a" xml:space="preserve">CPVC pavco Ø</text>
<text x="1147.5" y="168.1" font-size="7.0" text-anchor="end" fill="#1a1a1a" xml:space="preserve">1/2"</text>
<text x="1145" y="178.3" font-size="7.0" text-anchor="end" fill="#1a1a1a" xml:space="preserve">Ducto de</text>
<text x="1145" y="186.1" font-size="7.0" text-anchor="end" fill="#1a1a1a" xml:space="preserve">suministro de</text>
<text x="1145" y="193.9" font-size="7.0" text-anchor="end" fill="#1a1a1a" xml:space="preserve">aire  8" x 8"</text>
<text x="1147.5" y="207.5" font-size="7.0" text-anchor="end" fill="#1a1a1a" xml:space="preserve">Terminal de</text>
<text x="1147.5" y="215.3" font-size="7.0" text-anchor="end" fill="#1a1a1a" xml:space="preserve">Aire 9" x 9"</text>
<text x="1147.5" y="234.2" font-size="7.0" text-anchor="end" fill="#1a1a1a" xml:space="preserve">Tubería de</text>
<text x="1147.5" y="242" font-size="7.0" text-anchor="end" fill="#1a1a1a" xml:space="preserve">ventilación pvc</text>
<text x="1147.5" y="249.8" font-size="7.0" text-anchor="end" fill="#1a1a1a" xml:space="preserve">Ø 2"</text>
<text x="1147.5" y="274.7" font-size="7.0" text-anchor="end" fill="#1a1a1a" xml:space="preserve">Tubería de</text>
<text x="1147.5" y="282.5" font-size="7.0" text-anchor="end" fill="#1a1a1a" xml:space="preserve">desague pvc Ø</text>
<text x="1147.5" y="290.3" font-size="7.0" text-anchor="end" fill="#1a1a1a" xml:space="preserve">2"</text>
<text x="1147.5" y="303.8" font-size="7.0" text-anchor="end" fill="#1a1a1a" xml:space="preserve">Tubería de</text>
<text x="1147.5" y="311.6" font-size="7.0" text-anchor="end" fill="#1a1a1a" xml:space="preserve">agua fría PVC</text>
<text x="1147.5" y="319.4" font-size="7.0" text-anchor="end" fill="#1a1a1a" xml:space="preserve">pavco Ø 3/4"</text>
<text x="1147.5" y="332" font-size="7.0" text-anchor="end" fill="#1a1a1a" xml:space="preserve">Tubería de</text>
<text x="1147.5" y="339.8" font-size="7.0" text-anchor="end" fill="#1a1a1a" xml:space="preserve">agua caliente</text>
<text x="1147.5" y="347.6" font-size="7.0" text-anchor="end" fill="#1a1a1a" xml:space="preserve">CPVC pavco Ø</text>
<text x="1147.5" y="355.4" font-size="7.0" text-anchor="end" fill="#1a1a1a" xml:space="preserve">1/2"</text>
<text x="1147.5" y="368.8" font-size="7.0" text-anchor="end" fill="#1a1a1a" xml:space="preserve">Terminal de</text>
<text x="1147.5" y="376.6" font-size="7.0" text-anchor="end" fill="#1a1a1a" xml:space="preserve">Aire 9" x 9"</text>
<text x="1147.5" y="389.7" font-size="7.0" text-anchor="end" fill="#1a1a1a" xml:space="preserve">Tubería de</text>
<text x="1147.5" y="397.5" font-size="7.0" text-anchor="end" fill="#1a1a1a" xml:space="preserve">desague pvc Ø 4"</text>
<circle cx="882" cy="428.3" r="9.6" fill="#fff" stroke="#bdbdbd" stroke-width="0.8" />
<text x="882" y="432.9" font-size="12.4" text-anchor="middle" fill="#0a0a0a" style="stroke:#0a0a0a;stroke-width:0.25px">13</text>
<text x="897.5" y="423.8" font-size="13.0" text-anchor="start" fill="#050505" style="stroke:#050505;stroke-width:0.3px">Corte B-B - Z. SSHH 05</text>
</g>
<g id="box01">
<polyline points="263.3,490.3 232.5,508.3 220,501.3 210.8,506.7 210.8,520" stroke="#9a9a9a" stroke-width="0.7" fill="none" />
<polyline points="210.8,506.7 224,514" stroke="#9a9a9a" stroke-width="0.7" fill="none" />
<line x1="117.5" y1="575.3" x2="224" y2="513.6" stroke="#9a9a9a" stroke-width="0.7" />
<line x1="126.7" y1="580.8" x2="283.3" y2="490" stroke="#9a9a9a" stroke-width="0.7" />
<line x1="117.5" y1="575.3" x2="126.7" y2="580.8" stroke="#9a9a9a" stroke-width="0.7" />
<line x1="117.5" y1="575.3" x2="117.5" y2="771" stroke="#a8a8a8" stroke-width="0.7" />
<line x1="126.7" y1="580.8" x2="126.7" y2="772" stroke="#a8a8a8" stroke-width="0.7" />
<line x1="201.7" y1="537.5" x2="201.7" y2="660" stroke="#dcdcdc" stroke-width="0.6" />
<line x1="258.3" y1="505" x2="363" y2="565" stroke="#9a9a9a" stroke-width="0.7" />
<line x1="255.5" y1="514.5" x2="356.5" y2="572.5" stroke="#9a9a9a" stroke-width="0.7" />
<line x1="201.7" y1="537.5" x2="256" y2="569" stroke="#9a9a9a" stroke-width="0.7" />
<line x1="256" y1="569" x2="322" y2="607" stroke="#9a9a9a" stroke-width="0.7" />
<line x1="216" y1="546" x2="245" y2="563" stroke="#9a9a9a" stroke-width="0.6" />
<line x1="256" y1="560" x2="370" y2="625.5" stroke="#9a9a9a" stroke-width="0.7" />
<line x1="290" y1="588" x2="359" y2="628" stroke="#9a9a9a" stroke-width="0.6" />
<line x1="370" y1="623.5" x2="511.7" y2="541.3" stroke="#9a9a9a" stroke-width="0.7" />
<line x1="511.7" y1="541.3" x2="520.8" y2="546.7" stroke="#9a9a9a" stroke-width="0.7" />
<line x1="351.7" y1="645" x2="520.8" y2="546.7" stroke="#9a9a9a" stroke-width="0.7" />
<line x1="416.7" y1="595" x2="490" y2="553.3" stroke="#9a9a9a" stroke-width="0.6" />
<line x1="392" y1="609" x2="416.7" y2="595" stroke="#9a9a9a" stroke-width="0.6" />
<line x1="416.7" y1="595" x2="395" y2="582.5" stroke="#9a9a9a" stroke-width="0.6" />
<line x1="520.8" y1="546.7" x2="520.8" y2="737" stroke="#b4b4b4" stroke-width="0.7" />
<line x1="353.3" y1="488.3" x2="353.3" y2="558.3" stroke="#c4c4c4" stroke-width="0.7" />
<line x1="450.8" y1="550" x2="450.8" y2="575.8" stroke="#b0b0b0" stroke-width="0.7" />
<line x1="357" y1="577" x2="357" y2="618" stroke="#e6e6e6" stroke-width="0.7" />
<line x1="362" y1="580" x2="362" y2="621" stroke="#e6e6e6" stroke-width="0.7" />
<line x1="367" y1="583" x2="367" y2="624" stroke="#e6e6e6" stroke-width="0.7" />
<line x1="357" y1="618" x2="372" y2="627" stroke="#e2e2e2" stroke-width="0.7" />
<polygon points="369,588 385,597 385,617 369,626" fill="#f3f8fb" stroke="none" stroke-width="0" />
<line x1="418" y1="574" x2="451" y2="555" stroke="#e2e2e2" stroke-width="2.4" />
<ellipse cx="451.5" cy="554.5" rx="1.8" ry="2.2" fill="#fff" stroke="#d0d0d0" stroke-width="0.5" />
<line x1="226" y1="680" x2="246" y2="668.5" stroke="#e6e6e6" stroke-width="2.4" />
<ellipse cx="225.5" cy="680.5" rx="1.5" ry="2" fill="#fff" stroke="#c0c0c0" stroke-width="0.5" />
<line x1="322" y1="607" x2="368" y2="633" stroke="#9a9a9a" stroke-width="0.6" />
<line x1="285" y1="665" x2="368" y2="617" stroke="#c9c9c9" stroke-width="0.6" />
<line x1="292" y1="672" x2="372" y2="626" stroke="#c9c9c9" stroke-width="0.6" />
<line x1="300" y1="680" x2="300" y2="700" stroke="#c9c9c9" stroke-width="0.6" />
<line x1="295" y1="677" x2="351.7" y2="645" stroke="#9a9a9a" stroke-width="0.6" />
<line x1="110" y1="761.7" x2="117.5" y2="753.3" stroke="#c9c9c9" stroke-width="0.7" />
<line x1="110" y1="761.7" x2="298" y2="870" stroke="#b0b0b0" stroke-width="0.7" />
<line x1="105" y1="773.3" x2="290" y2="880" stroke="#c9c9c9" stroke-width="0.7" />
<line x1="105" y1="766" x2="105" y2="773.3" stroke="#c9c9c9" stroke-width="0.7" />
<line x1="117.5" y1="771" x2="296" y2="874" stroke="#d8d8d8" stroke-width="0.6" />
<line x1="150" y1="762" x2="212" y2="726" stroke="#e4e4e4" stroke-width="0.6" />
<line x1="172" y1="774.7" x2="234" y2="738.7" stroke="#e4e4e4" stroke-width="0.6" />
<line x1="194" y1="787.4" x2="256" y2="751.4" stroke="#e4e4e4" stroke-width="0.6" />
<line x1="216" y1="800.1" x2="278" y2="764.1" stroke="#e4e4e4" stroke-width="0.6" />
<line x1="238" y1="812.8" x2="300" y2="776.8" stroke="#e4e4e4" stroke-width="0.6" />
<line x1="260" y1="825.5" x2="322" y2="789.5" stroke="#e4e4e4" stroke-width="0.6" />
<line x1="282" y1="838.2" x2="344" y2="802.2" stroke="#e4e4e4" stroke-width="0.6" />
<line x1="135" y1="770" x2="285" y2="856" stroke="#e4e4e4" stroke-width="0.6" />
<line x1="153" y1="759.6" x2="303" y2="845.6" stroke="#e4e4e4" stroke-width="0.6" />
<line x1="171" y1="749.2" x2="321" y2="835.2" stroke="#e4e4e4" stroke-width="0.6" />
<line x1="189" y1="738.8" x2="339" y2="824.8" stroke="#e4e4e4" stroke-width="0.6" />
<line x1="225.8" y1="680" x2="225.8" y2="842" stroke="#bdbdbd" stroke-width="0.7" />
<line x1="285.5" y1="735" x2="285.5" y2="935" stroke="#dadada" stroke-width="0.7" />
<line x1="294.5" y1="740" x2="294.5" y2="938" stroke="#d0d0d0" stroke-width="0.7" />
<polyline points="221,826 221,838.5 227.5,841.5 227.5,829 221,826" stroke="#c4c4c4" stroke-width="0.6" fill="none" />
<polyline points="285.5,930 294.5,935 302,931" stroke="#d0d0d0" stroke-width="0.6" fill="none" />
<line x1="520.8" y1="737.5" x2="583.3" y2="774.2" stroke="#a8a8a8" stroke-width="0.7" />
<line x1="583.3" y1="774.2" x2="583.3" y2="790" stroke="#a8a8a8" stroke-width="0.7" />
<line x1="583.3" y1="774.2" x2="345" y2="912" stroke="#dcdcdc" stroke-width="0.6" />
<line x1="583.3" y1="790" x2="357" y2="920.5" stroke="#b4b4b4" stroke-width="0.7" />
<line x1="520.8" y1="737.5" x2="402" y2="806" stroke="#e0e0e0" stroke-width="0.6" />
<line x1="357" y1="920.5" x2="349" y2="916" stroke="#c0c0c0" stroke-width="0.6" />
<line x1="294.5" y1="870" x2="313" y2="881" stroke="#c0c0c0" stroke-width="0.6" />
<line x1="445" y1="785" x2="500" y2="753" stroke="#e6e6e6" stroke-width="0.7" />
<line x1="300" y1="868" x2="330" y2="850" stroke="#e6e6e6" stroke-width="0.7" />
<polygon points="356.7,573.3 392.5,552.5 392.5,595" fill="#f79fd0" stroke="none" stroke-width="0" />
<polygon points="392.5,552.5 430,573.3 392.5,595" fill="#fbdcf1" stroke="none" stroke-width="0" />
<polygon points="392.5,573 430,573.3 392.5,595" fill="#fdeaf7" stroke="none" stroke-width="0" />
<polygon points="380.8,562.5 392.5,555.8 405,563.3 393.3,570.8" fill="#35c9a3" stroke="none" stroke-width="0" />
<polygon points="380.8,562.5 393.3,570.8 393.3,576 380.8,567.5" fill="#0c5f4c" stroke="none" stroke-width="0" />
<polygon points="393.3,570.8 405,563.3 405,568.5 393.3,576" fill="#1d957a" stroke="none" stroke-width="0" />
<ellipse cx="403.3" cy="601.7" rx="5.6" ry="3.1" fill="#fff" stroke="#b9b9b9" stroke-width="0.7" />
<line x1="389" y1="604.5" x2="400" y2="600.5" stroke="#dcdcdc" stroke-width="1.6" />
<ellipse cx="387.6" cy="605.2" rx="1.1" ry="1.9" fill="#222" stroke="none" stroke-width="0" />
<polygon points="149.2,691.8 202.5,660.8 202.5,672.3 150,702.5" fill="#d3d3d3" stroke="none" stroke-width="0" />
<polygon points="146.7,703.3 200,673.3 224.2,687.5 172.5,717.5" fill="#f1f1f1" stroke="none" stroke-width="0" />
<polygon points="152.7,704.3 176.7,690.8 186.7,696.8 163.7,709.9" fill="#e4e4e4" stroke="none" stroke-width="0" />
<polygon points="201.7,675.3 224.2,688.3 224.2,698.3 201.7,685.8" fill="#b5b5b5" stroke="none" stroke-width="0" />
<polygon points="203.7,679.3 222.2,689.8 222.2,695.3 203.7,684.8" fill="#a4a4a4" stroke="none" stroke-width="0" />
<polygon points="172.5,717.5 224.2,688.3 224.2,699.3 172.5,729.3" fill="#d6d6d6" stroke="none" stroke-width="0" />
<polygon points="145.8,704.2 172.5,717.5 172.5,729.3 145.8,716.7" fill="#9b9b9b" stroke="none" stroke-width="0" />
<polygon points="149.7,709.3 168.7,718.8 168.7,727.3 149.7,718.3" fill="#7f7f7f" stroke="none" stroke-width="0" />
<polygon points="172.5,717.5 174.3,716.5 174.3,728.3 172.5,729.3" fill="#f4f4f4" stroke="none" stroke-width="0" />
<path d="M175.5,685.3 C175.5,697.3 183.5,705.3 192.5,705.3 C201.5,705.3 209.5,697.3 209.5,685.3 Z" fill="#e2e2e2" stroke="#b5b5b5" stroke-width="0.5" opacity="0.92"/>
<ellipse cx="192.5" cy="685.3" rx="17" ry="9.3" fill="#f4f4f4" stroke="#b0b0b0" stroke-width="0.6" />
<ellipse cx="193.5" cy="686.8" rx="13" ry="6.6" fill="#dedede" stroke="none" stroke-width="0" />
<ellipse cx="191.5" cy="688.8" rx="9.5" ry="4.6" fill="#f0f0f0" stroke="none" stroke-width="0" />
<path d="M198.5,678.3 C206.5,680.3 209.5,684.3 208.5,690.3 L201.5,689.3 Z" fill="#a9a9a9" stroke="none" stroke-width="0" opacity="0.8"/>
<circle cx="193" cy="697.3" r="0.9" fill="#888" stroke="none" stroke-width="0" />
<rect x="176.2" y="667.3" width="2.2" height="6" fill="#6e6e6e" stroke="none" stroke-width="0" />
<line x1="177.7" y1="669.3" x2="184.7" y2="673.3" stroke="#9a9a9a" stroke-width="1" />
<line x1="147.2" y1="693.3" x2="147.2" y2="704.3" stroke="#777" stroke-width="1" />
<line x1="149.2" y1="691.3" x2="149.2" y2="702.3" stroke="#777" stroke-width="0.8" />
<polygon points="261.7,627.7 315,596.7 315,608.2 262.5,638.4" fill="#d3d3d3" stroke="none" stroke-width="0" />
<polygon points="259.2,639.2 312.5,609.2 336.7,623.4 285,653.4" fill="#f1f1f1" stroke="none" stroke-width="0" />
<polygon points="265.2,640.2 289.2,626.7 299.2,632.7 276.2,645.8" fill="#e4e4e4" stroke="none" stroke-width="0" />
<polygon points="314.2,611.2 336.7,624.2 336.7,634.2 314.2,621.7" fill="#b5b5b5" stroke="none" stroke-width="0" />
<polygon points="316.2,615.2 334.7,625.7 334.7,631.2 316.2,620.7" fill="#a4a4a4" stroke="none" stroke-width="0" />
<polygon points="285,653.4 336.7,624.2 336.7,635.2 285,665.2" fill="#d6d6d6" stroke="none" stroke-width="0" />
<polygon points="258.3,640.1 285,653.4 285,665.2 258.3,652.6" fill="#9b9b9b" stroke="none" stroke-width="0" />
<polygon points="262.2,645.2 281.2,654.7 281.2,663.2 262.2,654.2" fill="#7f7f7f" stroke="none" stroke-width="0" />
<polygon points="285,653.4 286.8,652.4 286.8,664.2 285,665.2" fill="#f4f4f4" stroke="none" stroke-width="0" />
<path d="M288,621.2 C288,633.2 296,641.2 305,641.2 C314,641.2 322,633.2 322,621.2 Z" fill="#e2e2e2" stroke="#b5b5b5" stroke-width="0.5" opacity="0.92"/>
<ellipse cx="305" cy="621.2" rx="17" ry="9.3" fill="#f4f4f4" stroke="#b0b0b0" stroke-width="0.6" />
<ellipse cx="306" cy="622.7" rx="13" ry="6.6" fill="#dedede" stroke="none" stroke-width="0" />
<ellipse cx="304" cy="624.7" rx="9.5" ry="4.6" fill="#f0f0f0" stroke="none" stroke-width="0" />
<path d="M311,614.2 C319,616.2 322,620.2 321,626.2 L314,625.2 Z" fill="#a9a9a9" stroke="none" stroke-width="0" opacity="0.8"/>
<circle cx="305.5" cy="633.2" r="0.9" fill="#888" stroke="none" stroke-width="0" />
<rect x="288.7" y="603.2" width="2.2" height="6" fill="#6e6e6e" stroke="none" stroke-width="0" />
<line x1="290.2" y1="605.2" x2="297.2" y2="609.2" stroke="#9a9a9a" stroke-width="1" />
<line x1="259.7" y1="629.2" x2="259.7" y2="640.2" stroke="#777" stroke-width="1" />
<line x1="261.7" y1="627.2" x2="261.7" y2="638.2" stroke="#777" stroke-width="0.8" />
<ellipse cx="315" cy="652" rx="6" ry="3.4" fill="#fff" stroke="#b5b5b5" stroke-width="0.7" />
<polygon points="330,699 346,707 346,731 330,723" fill="#bdbdbd" stroke="none" stroke-width="0" />
<polygon points="332,696.5 347,704 345,712 333,706" fill="#d9d9d9" stroke="none" stroke-width="0" />
<polygon points="346,707 363,699 363,722 346,731" fill="#d8d8d8" stroke="none" stroke-width="0" />
<polygon points="328,713 340,719 340,736 328,730" fill="#8a8a8a" stroke="none" stroke-width="0" />
<line x1="320" y1="703" x2="346" y2="716" stroke="#444" stroke-width="0.9" />
<line x1="346" y1="710" x2="370" y2="697" stroke="#777" stroke-width="0.8" />
<polyline points="277.2,662.5 277.2,693.3 283.3,697.5 265.8,707.5 316.7,736.7" stroke="#c81a1a" stroke-width="2.3" fill="none" />
<polyline points="289.7,663.3 289.7,683.3 299.2,689.2 274.2,705 318,730" stroke="#1010b0" stroke-width="2.7" fill="none" />
<rect x="281.4" y="664" width="5.6" height="30" fill="#057c0c" stroke="none" stroke-width="0" />
<rect x="282.13" y="664" width="4.87" height="30" fill="#08a814" stroke="none" stroke-width="0" />
<rect x="282.97" y="664" width="1.68" height="30" fill="#1cc828" stroke="none" stroke-width="0" />
<rect x="281.4" y="664" width="0.56" height="30" fill="#03590a" stroke="none" stroke-width="0" />
<polyline points="284.2,692 287,700 313.3,730" stroke="#057c0c" stroke-width="6" fill="none" stroke-linecap="round" stroke-linejoin="round"/>
<polyline points="283.66,691.46 286.46,699.46 312.76,729.46" stroke="#08a814" stroke-width="5.04" fill="none" stroke-linecap="round" stroke-linejoin="round"/>
<polyline points="283.12,690.92 285.92,698.92 312.22,728.92" stroke="#1cc828" stroke-width="1.8" fill="none" stroke-linecap="round" stroke-linejoin="round"/>
<polyline points="175.3,729.2 175.3,753.3 180,755.8 199.2,745.8 238.3,768" stroke="#c81a1a" stroke-width="2.3" fill="none" />
<polyline points="162.5,727.5 162.5,756.7 172.5,763.3 199.2,748.3 238.3,770.8" stroke="#1010b0" stroke-width="2.8" fill="none" />
<rect x="164.7" y="728.3" width="5.6" height="28.7" fill="#057c0c" stroke="none" stroke-width="0" />
<rect x="165.43" y="728.3" width="4.87" height="28.7" fill="#08a814" stroke="none" stroke-width="0" />
<rect x="166.27" y="728.3" width="1.68" height="28.7" fill="#1cc828" stroke="none" stroke-width="0" />
<rect x="164.7" y="728.3" width="0.56" height="28.7" fill="#03590a" stroke="none" stroke-width="0" />
<polyline points="167.5,755 170,760.8 238.3,776.7" stroke="#057c0c" stroke-width="6.6" fill="none" stroke-linecap="round" stroke-linejoin="round"/>
<polyline points="166.91,754.41 169.41,760.21 237.71,776.11" stroke="#08a814" stroke-width="5.54" fill="none" stroke-linecap="round" stroke-linejoin="round"/>
<polyline points="166.31,753.81 168.81,759.61 237.11,775.51" stroke="#1cc828" stroke-width="1.98" fill="none" stroke-linecap="round" stroke-linejoin="round"/>
<rect x="245" y="513.3" width="10.6" height="226.7" fill="#057c0c" stroke="none" stroke-width="0" />
<rect x="246.38" y="513.3" width="9.22" height="226.7" fill="#08a814" stroke="none" stroke-width="0" />
<rect x="247.97" y="513.3" width="3.18" height="226.7" fill="#1cc828" stroke="none" stroke-width="0" />
<rect x="245" y="513.3" width="1.06" height="226.7" fill="#03590a" stroke="none" stroke-width="0" />
<ellipse cx="250.3" cy="513.3" rx="5.3" ry="2.92" fill="#a8a8a8" stroke="#8a8a8a" stroke-width="0.4" />
<rect x="244.5" y="535" width="11.6" height="4" fill="#0c9a18" stroke="none" stroke-width="0" />
<rect x="244.2" y="714" width="12.4" height="26" fill="#057c0c" stroke="none" stroke-width="0" />
<rect x="245.4" y="714" width="9" height="26" fill="#08a814" stroke="none" stroke-width="0" />
<rect x="247.4" y="714" width="3" height="26" fill="#1cc828" stroke="none" stroke-width="0" />
<polyline points="219.4,553 219.6,558 224,560.5 246,548" stroke="#057c0c" stroke-width="10.2" fill="none" stroke-linecap="round" stroke-linejoin="round"/>
<polyline points="218.48,552.08 218.68,557.08 223.08,559.58 245.08,547.08" stroke="#08a814" stroke-width="8.57" fill="none" stroke-linecap="round" stroke-linejoin="round"/>
<polyline points="217.56,551.16 217.76,556.16 222.16,558.66 244.16,546.16" stroke="#1cc828" stroke-width="3.06" fill="none" stroke-linecap="round" stroke-linejoin="round"/>
<rect x="214.2" y="531.3" width="10.4" height="22.7" fill="#057c0c" stroke="none" stroke-width="0" />
<rect x="215.55" y="531.3" width="9.05" height="22.7" fill="#08a814" stroke="none" stroke-width="0" />
<rect x="217.11" y="531.3" width="3.12" height="22.7" fill="#1cc828" stroke="none" stroke-width="0" />
<rect x="214.2" y="531.3" width="1.04" height="22.7" fill="#03590a" stroke="none" stroke-width="0" />
<ellipse cx="219.4" cy="531.3" rx="5.2" ry="2.86" fill="#a8a8a8" stroke="#8a8a8a" stroke-width="0.4" />
<line x1="215" y1="545.8" x2="256" y2="569.5" stroke="#7cc084" stroke-width="0.5" />
<polyline points="255,723.5 300,731 360,741.5" stroke="#057c0c" stroke-width="11" fill="none" stroke-linecap="round" stroke-linejoin="round"/>
<polyline points="254.01,722.51 299.01,730.01 359.01,740.51" stroke="#08a814" stroke-width="9.24" fill="none" stroke-linecap="round" stroke-linejoin="round"/>
<polyline points="253.02,721.52 298.02,729.02 358.02,739.52" stroke="#1cc828" stroke-width="3.3" fill="none" stroke-linecap="round" stroke-linejoin="round"/>
<polyline points="360,741.5 427,757.5" stroke="#057c0c" stroke-width="11" fill="none" stroke-linecap="round" stroke-linejoin="round"/>
<polyline points="359.01,740.51 426.01,756.51" stroke="#08a814" stroke-width="9.24" fill="none" stroke-linecap="round" stroke-linejoin="round"/>
<polyline points="358.02,739.52 425.02,755.52" stroke="#1cc828" stroke-width="3.3" fill="none" stroke-linecap="round" stroke-linejoin="round"/>
<polyline points="427,757.5 440,761 445.5,760.5 447.5,757 446,752.5 439,748 437.5,745" stroke="#057c0c" stroke-width="6" fill="none" stroke-linecap="round" stroke-linejoin="round"/>
<polyline points="426.46,756.96 439.46,760.46 444.96,759.96 446.96,756.46 445.46,751.96 438.46,747.46 436.96,744.46" stroke="#08a814" stroke-width="5.04" fill="none" stroke-linecap="round" stroke-linejoin="round"/>
<polyline points="425.92,756.42 438.92,759.92 444.42,759.42 446.42,755.92 444.92,751.42 437.92,746.92 436.42,743.92" stroke="#1cc828" stroke-width="1.8" fill="none" stroke-linecap="round" stroke-linejoin="round"/>
<ellipse cx="437.5" cy="744.6" rx="2.6" ry="1.6" fill="#1cc828" stroke="none" stroke-width="0" />
<rect x="367.55" y="729" width="10.5" height="19" fill="#057c0c" stroke="none" stroke-width="0" />
<rect x="368.92" y="729" width="9.13" height="19" fill="#08a814" stroke="none" stroke-width="0" />
<rect x="370.49" y="729" width="3.15" height="19" fill="#1cc828" stroke="none" stroke-width="0" />
<rect x="367.55" y="729" width="1.05" height="19" fill="#03590a" stroke="none" stroke-width="0" />
<ellipse cx="372.8" cy="729" rx="5.2" ry="2.4" fill="#0e9a1c" stroke="none" stroke-width="0" />
<rect x="349.5" y="731" width="8" height="14" fill="#057c0c" stroke="none" stroke-width="0" />
<rect x="350.54" y="731" width="6.96" height="14" fill="#08a814" stroke="none" stroke-width="0" />
<rect x="351.74" y="731" width="2.4" height="14" fill="#1cc828" stroke="none" stroke-width="0" />
<rect x="349.5" y="731" width="0.8" height="14" fill="#03590a" stroke="none" stroke-width="0" />
<polyline points="290,700 312,727" stroke="#057c0c" stroke-width="6.5" fill="none" stroke-linecap="round" stroke-linejoin="round"/>
<polyline points="289.42,699.41 311.42,726.41" stroke="#08a814" stroke-width="5.46" fill="none" stroke-linecap="round" stroke-linejoin="round"/>
<polyline points="288.83,698.83 310.83,725.83" stroke="#1cc828" stroke-width="1.95" fill="none" stroke-linecap="round" stroke-linejoin="round"/>
<ellipse cx="222.5" cy="760.5" rx="5.2" ry="19" fill="none" stroke="#057c0c" stroke-width="9" />
<ellipse cx="222.2" cy="760.2" rx="5.2" ry="19" fill="none" stroke="#08a814" stroke-width="7" />
<ellipse cx="221.2" cy="759.6" rx="5.2" ry="19" fill="none" stroke="#1cc828" stroke-width="2.2" />
<polyline points="282.5,758.3 286.7,758.3 286.7,782.5 274.2,789.2" stroke="#1010b0" stroke-width="2.5" fill="none" />
<polyline points="246,788 262,815 284,850" stroke="#057c0c" stroke-width="11.5" fill="none" stroke-linecap="round" stroke-linejoin="round"/>
<polyline points="244.97,786.97 260.96,813.97 282.96,848.97" stroke="#08a814" stroke-width="9.66" fill="none" stroke-linecap="round" stroke-linejoin="round"/>
<polyline points="243.93,785.93 259.93,812.93 281.93,847.93" stroke="#1cc828" stroke-width="3.45" fill="none" stroke-linecap="round" stroke-linejoin="round"/>
<rect x="258.25" y="792" width="9.5" height="16" fill="#057c0c" stroke="none" stroke-width="0" />
<rect x="259.49" y="792" width="8.27" height="16" fill="#08a814" stroke="none" stroke-width="0" />
<rect x="260.91" y="792" width="2.85" height="16" fill="#1cc828" stroke="none" stroke-width="0" />
<rect x="258.25" y="792" width="0.95" height="16" fill="#03590a" stroke="none" stroke-width="0" />
<ellipse cx="263" cy="792" rx="4.7" ry="2.2" fill="#0e9a1c" stroke="none" stroke-width="0" />
<rect x="282.5" y="838" width="6" height="12" fill="#057c0c" stroke="none" stroke-width="0" />
<rect x="283.28" y="838" width="5.22" height="12" fill="#08a814" stroke="none" stroke-width="0" />
<rect x="284.18" y="838" width="1.8" height="12" fill="#1cc828" stroke="none" stroke-width="0" />
<rect x="282.5" y="838" width="0.6" height="12" fill="#03590a" stroke="none" stroke-width="0" />
<ellipse cx="286.5" cy="851" rx="3.4" ry="5" fill="#08a814" stroke="none" stroke-width="0" />
<polyline points="278.5,822.5 316.5,802.5" stroke="#10a9ad" stroke-width="5.6" fill="none" stroke-linecap="round" stroke-linejoin="round"/>
<polyline points="278.5,822.16 316.5,802.16" stroke="#20e4e8" stroke-width="4.7" fill="none" stroke-linecap="round" stroke-linejoin="round"/>
<polyline points="278.5,821.83 316.5,801.83" stroke="#7ff6f7" stroke-width="1.68" fill="none" stroke-linecap="round" stroke-linejoin="round"/>
<line x1="238.3" y1="768.2" x2="368.3" y2="842.5" stroke="#c81a1a" stroke-width="2.4" />
<line x1="238.3" y1="771.5" x2="370" y2="847.5" stroke="#1010b0" stroke-width="2.8" />
<line x1="290" y1="721.7" x2="433.3" y2="805" stroke="#c81a1a" stroke-width="2.4" />
<line x1="290" y1="715" x2="445" y2="804" stroke="#1010b0" stroke-width="2.6" />
<path d="M237.5,770 C238,766 245,764 254,765 L260,769 L260,783 C258,788 250,791 243,790 C239.5,789 237.5,786 237.5,783 Z" fill="#d4d4d4" stroke="none" stroke-width="0" />
<path d="M237.8,770 C241,765 251,764 259,768 C256,773.5 244,775.5 237.8,770 Z" fill="#f7f7f7" stroke="none" stroke-width="0" />
<path d="M239,779 C244,783 253,783 260,778 L260,783 C256,788.5 245,791 240,787 Z" fill="#bcbcbc" stroke="none" stroke-width="0" />
<polygon points="253.7,749.5 264.5,755.5 264.5,779 253.7,773" fill="#bebebe" stroke="none" stroke-width="0" />
<polygon points="264.5,755.5 272.5,751.5 272.5,775 264.5,779" fill="#d8d8d8" stroke="none" stroke-width="0" />
<polygon points="253.7,749.5 261.7,745.5 272.5,751.5 264.5,755.5" fill="#f0f0f0" stroke="none" stroke-width="0" />
<ellipse cx="253.5" cy="780" rx="3.4" ry="2" fill="#f3f3f3" stroke="#b5b5b5" stroke-width="0.5" />
<line x1="264" y1="758" x2="283" y2="748.5" stroke="#d8d8d8" stroke-width="1" />
<polyline points="316,813.5 325,806.7 325,707.5" stroke="#1010b0" stroke-width="2.5" fill="none" />
<polyline points="321,705.5 325,707.5" stroke="#1010b0" stroke-width="2.5" fill="none" />
<polyline points="333,729 333,755 343,749.5" stroke="#1010b0" stroke-width="2.5" fill="none" />
<polyline points="377.5,676.2 373.5,678.3 373.5,777.5 383,771.5" stroke="#1010b0" stroke-width="2.5" fill="none" />
<polyline points="335,824.5 344,820 344,720.8" stroke="#c81a1a" stroke-width="2.4" fill="none" />
<polyline points="341,719 344,720.8" stroke="#c81a1a" stroke-width="2.4" fill="none" />
<polyline points="398.3,688.3 392.2,691.7 392.2,791.5" stroke="#c81a1a" stroke-width="2.4" fill="none" />
<line x1="398.3" y1="688.3" x2="402" y2="686.3" stroke="#222" stroke-width="1.4" />
<line x1="375" y1="673.5" x2="375" y2="676.5" stroke="#222" stroke-width="1.4" />
<ellipse cx="387.5" cy="682.5" rx="4.3" ry="6.6" fill="#5f5f5f" stroke="#8a8a8a" stroke-width="0.5" transform="rotate(-25 387.5 682.5)"/>
<line x1="393" y1="678" x2="393" y2="684" stroke="#9a9a9a" stroke-width="0.8" />
<polygon points="382.5,763.3 393.3,756.7 460,798.5 450,806" fill="#3fd5b4" stroke="none" stroke-width="0" />
<polygon points="382.5,763.3 450,806 447,815 382.5,775" fill="#0b4d3e" stroke="none" stroke-width="0" />
<polygon points="450,806 460,798.5 460,808 450,815.5" fill="#2fb798" stroke="none" stroke-width="0" />
<polygon points="382.5,770 390,775 390,791 382.5,786" fill="#0b4d3e" stroke="none" stroke-width="0" />
<polygon points="390,775 397,771 397,787 390,791" fill="#1b8d74" stroke="none" stroke-width="0" />
<polygon points="356.7,792.5 383.3,778.3 400,790 393,812" fill="#f29fcb" stroke="none" stroke-width="0" />
<polygon points="393,812 400,790 425,801 393,812" fill="#e7b0d2" stroke="none" stroke-width="0" />
<polygon points="393,812 400,790 410,784 428,799" fill="#ebb4d6" stroke="none" stroke-width="0" />
<polygon points="356.7,792.5 393,812.5 393,798 372,786" fill="#f6a6d3" stroke="none" stroke-width="0" />
<polyline points="349,778.5 388,757" stroke="#10a9ad" stroke-width="5.6" fill="none" stroke-linecap="round" stroke-linejoin="round"/>
<polyline points="349,778.16 388,756.66" stroke="#20e4e8" stroke-width="4.7" fill="none" stroke-linecap="round" stroke-linejoin="round"/>
<polyline points="349,777.83 388,756.33" stroke="#7ff6f7" stroke-width="1.68" fill="none" stroke-linecap="round" stroke-linejoin="round"/>
<polygon points="382.5,763.3 393.3,756.7 420,773.5 409,780" fill="#3fd5b4" stroke="none" stroke-width="0" />
<line x1="383" y1="769.5" x2="445" y2="804.5" stroke="#1010b0" stroke-width="2.8" />
<line x1="392.2" y1="780" x2="392.2" y2="791.5" stroke="#c81a1a" stroke-width="2.4" />
<polyline points="392.2,791.5 397,789" stroke="#c81a1a" stroke-width="2.4" fill="none" />
<line x1="298.3" y1="883.3" x2="527" y2="751.5" stroke="#cf1b1b" stroke-width="2.6" />
<line x1="305" y1="886" x2="533" y2="754" stroke="#1010b0" stroke-width="2.8" />
<circle cx="370.5" cy="847.5" r="2.2" fill="#1010b0" stroke="none" stroke-width="0" />
<circle cx="445" cy="804.5" r="2.4" fill="#1010b0" stroke="none" stroke-width="0" />
<circle cx="434" cy="805" r="2" fill="#cf1b1b" stroke="none" stroke-width="0" />
<rect x="315.25" y="590" width="5.5" height="256.5" fill="#0f9fa2" stroke="none" stroke-width="0" />
<rect x="318.66" y="590" width="2.09" height="256.5" fill="#18dcdf" stroke="none" stroke-width="0" />
<rect x="315.25" y="590" width="1.1" height="256.5" fill="#0b8083" stroke="none" stroke-width="0" />
<ellipse cx="318" cy="590" rx="2.75" ry="1.4" fill="#25e8ea" stroke="none" stroke-width="0" />
<rect x="345.95" y="571" width="5.5" height="257.5" fill="#0f9fa2" stroke="none" stroke-width="0" />
<rect x="349.36" y="571" width="2.09" height="257.5" fill="#18dcdf" stroke="none" stroke-width="0" />
<rect x="345.95" y="571" width="1.1" height="257.5" fill="#0b8083" stroke="none" stroke-width="0" />
<ellipse cx="348.7" cy="571" rx="2.75" ry="1.4" fill="#25e8ea" stroke="none" stroke-width="0" />
<ellipse cx="318" cy="846" rx="2.7" ry="1.4" fill="#0c7c80" stroke="none" stroke-width="0" />
<ellipse cx="348.7" cy="828" rx="2.7" ry="1.4" fill="#0c7c80" stroke="none" stroke-width="0" />
<line x1="310" y1="872" x2="330" y2="860.5" stroke="#cfcfcf" stroke-width="0.8" />
<ellipse cx="330.5" cy="858" rx="1" ry="1.8" fill="#444" stroke="none" stroke-width="0" />
<ellipse cx="309" cy="873" rx="1" ry="1.8" fill="#888" stroke="none" stroke-width="0" />
<line x1="392" y1="825" x2="400" y2="821" stroke="#d0d0d0" stroke-width="1.4" />
<ellipse cx="388" cy="824.5" rx="1" ry="1.8" fill="#333" stroke="none" stroke-width="0" />
<g id="ducts1">
<polygon points="313.3,892.5 539.2,762.3 549.2,767.5 322.5,897.8" fill="#f6cd9e" stroke="none" stroke-width="0" />
<polygon points="322.5,897.8 549.2,767.5 549.2,777.5 327.5,905.5 322.5,907" fill="#d7a274" stroke="none" stroke-width="0" />
<polygon points="313.3,892.5 322.5,897.8 322.5,948.3 313.3,944.2" fill="#1e1e1e" stroke="none" stroke-width="0" />
<polygon points="322.5,897.8 327.5,895 327.5,946 322.5,948.3" fill="#e9bb8e" stroke="none" stroke-width="0" />
<line x1="313.3" y1="903" x2="322.5" y2="908" stroke="#555" stroke-width="0.5" />
<polygon points="332.5,903.3 558.3,773.3 568.3,778.3 341.7,908.3" fill="#43dcba" stroke="none" stroke-width="0" />
<polygon points="341.7,908.3 568.3,778.3 568.3,788.5 341.7,918.5" fill="#2cb595" stroke="none" stroke-width="0" />
<polygon points="341.7,911.5 568.3,781.5 568.3,784 341.7,914" fill="#6fb7a6" stroke="none" stroke-width="0" />
<polygon points="332.5,903.3 341.7,908.3 341.7,918.5 332.5,913.5" fill="#161616" stroke="none" stroke-width="0" />
<polygon points="334,906 340,909.3 340,915.5 334,912.2" fill="#0b4d3e" stroke="none" stroke-width="0" />
<polygon points="411.7,868.3 423.2,861.8 437.5,870.3 426.7,876.8" fill="#43dcba" stroke="none" stroke-width="0" />
<polygon points="411.7,868.3 426.7,876.8 426.7,887.8 411.7,878.8" fill="#0b4d3e" stroke="none" stroke-width="0" />
<polygon points="426.7,876.8 437.5,870.3 437.5,881.1 426.7,887.8" fill="#8d8d8d" stroke="none" stroke-width="0" />
<polygon points="479,839 500,829.5 504.5,832 504.5,842.5 493,848.5" fill="#0b4d3e" stroke="none" stroke-width="0" />
<polygon points="504.5,832 513,827.5 513,838 504.5,842.5" fill="#8d8d8d" stroke="none" stroke-width="0" />
<polygon points="499.5,829 508,824.5 513,827.5 504.5,832" fill="#43dcba" stroke="none" stroke-width="0" />
<line x1="484" y1="842" x2="504" y2="832.5" stroke="#3f8f7c" stroke-width="0.6" />
</g>
<polyline points="335.8,867.5 341,870 387.5,894.5" stroke="#1010b0" stroke-width="2.8" fill="none" stroke-linecap="round"/>
<polyline points="121,537.5 210.5,537.5" stroke="#9a9a9a" stroke-width="0.6" fill="none" />
<polygon points="210.5,537.5 206.98,538.49 206.98,536.51" fill="#333" stroke="none" stroke-width="0" />
<polyline points="121.7,583.7 216.7,583.7 216.7,565" stroke="#9a9a9a" stroke-width="0.6" fill="none" />
<polygon points="216.7,565 217.69,568.52 215.71,568.52" fill="#333" stroke="none" stroke-width="0" />
<polyline points="87.5,674.7 156.7,674.7 156.7,685.5" stroke="#9a9a9a" stroke-width="0.6" fill="none" />
<polygon points="156.7,685.5 155.71,681.98 157.69,681.98" fill="#333" stroke="none" stroke-width="0" />
<polyline points="121,738.8 172,738.8" stroke="#9a9a9a" stroke-width="0.6" fill="none" />
<polygon points="172,738.8 168.48,739.79 168.48,737.81" fill="#333" stroke="none" stroke-width="0" />
<polyline points="117,769.2 166.7,769.2 166.7,762.5" stroke="#9a9a9a" stroke-width="0.6" fill="none" />
<polygon points="166.7,762.5 167.69,766.02 165.71,766.02" fill="#333" stroke="none" stroke-width="0" />
<polyline points="365.8,531.7 347.5,531.7 347.5,566" stroke="#9a9a9a" stroke-width="0.6" fill="none" />
<polygon points="347.5,566 346.51,562.48 348.49,562.48" fill="#333" stroke="none" stroke-width="0" />
<polyline points="535.8,553.3 401.7,553.3 401.7,562" stroke="#9a9a9a" stroke-width="0.6" fill="none" />
<polygon points="401.7,562 400.71,558.48 402.69,558.48" fill="#333" stroke="none" stroke-width="0" />
<polyline points="527.5,598 427.5,598 427.5,579.5" stroke="#9a9a9a" stroke-width="0.6" fill="none" />
<polygon points="427.5,579.5 428.49,583.02 426.51,583.02" fill="#333" stroke="none" stroke-width="0" />
<polyline points="515.8,653 375,653 375,672" stroke="#9a9a9a" stroke-width="0.6" fill="none" />
<polygon points="375,672 374.01,668.48 375.99,668.48" fill="#333" stroke="none" stroke-width="0" />
<polyline points="515.8,684.7 405,684.7 402,686.3" stroke="#9a9a9a" stroke-width="0.6" fill="none" />
<polyline points="515.8,710 415,710 415,747.5" stroke="#9a9a9a" stroke-width="0.6" fill="none" />
<polygon points="415,747.5 414.01,743.98 415.99,743.98" fill="#333" stroke="none" stroke-width="0" />
<polyline points="520.8,735 445.8,735 445.8,747.5" stroke="#9a9a9a" stroke-width="0.6" fill="none" />
<polygon points="445.8,747.5 444.81,743.98 446.79,743.98" fill="#333" stroke="none" stroke-width="0" />
<polyline points="515,871.7 462,871.7 462,821" stroke="#9a9a9a" stroke-width="0.6" fill="none" />
<polygon points="462,821 462.99,824.52 461.01,824.52" fill="#333" stroke="none" stroke-width="0" />
<polyline points="225,848 262,848 262,828.5" stroke="#b0b0b0" stroke-width="0.6" fill="none" />
<polygon points="262,828.5 262.99,832.02 261.01,832.02" fill="#333" stroke="none" stroke-width="0" />
<text x="57" y="535.3" font-size="7.0" text-anchor="start" fill="#1a1a1a" xml:space="preserve">Tubería de</text>
<text x="57" y="543.1" font-size="7.0" text-anchor="start" fill="#1a1a1a" xml:space="preserve">desague Ø 4"</text>
<text x="57" y="578.8" font-size="7.0" text-anchor="start" fill="#1a1a1a" xml:space="preserve">Codo 90 °de</text>
<text x="57" y="586.6" font-size="7.0" text-anchor="start" fill="#1a1a1a" xml:space="preserve">desague pvc</text>
<text x="57" y="594.4" font-size="7.0" text-anchor="start" fill="#1a1a1a" xml:space="preserve">pesado Ø 4"</text>
<text x="57" y="670.1" font-size="7.0" text-anchor="start" fill="#1a1a1a" xml:space="preserve">Lavadero con</text>
<text x="57" y="677.9" font-size="7.0" text-anchor="start" fill="#1a1a1a" xml:space="preserve">mesada</text>
<text x="57" y="734.3" font-size="7.0" text-anchor="start" fill="#1a1a1a" xml:space="preserve">Tubería de agua</text>
<text x="57" y="742.1" font-size="7.0" text-anchor="start" fill="#1a1a1a" xml:space="preserve">caliente CPVC</text>
<text x="57" y="749.9" font-size="7.0" text-anchor="start" fill="#1a1a1a" xml:space="preserve">pavco Ø 1/2"</text>
<text x="57" y="764.3" font-size="7.0" text-anchor="start" fill="#1a1a1a" xml:space="preserve">Tubería de agua</text>
<text x="57" y="772.1" font-size="7.0" text-anchor="start" fill="#1a1a1a" xml:space="preserve">fría PVC pavco Ø</text>
<text x="57" y="779.9" font-size="7.0" text-anchor="start" fill="#1a1a1a" xml:space="preserve">3/4"</text>
<text x="161" y="847.3" font-size="7.0" text-anchor="start" fill="#1a1a1a" xml:space="preserve">Tubería de</text>
<text x="161" y="855.1" font-size="7.0" text-anchor="start" fill="#1a1a1a" xml:space="preserve">desague Ø 4"</text>
<text x="433.3" y="525.8" font-size="7.0" text-anchor="end" fill="#1a1a1a" xml:space="preserve">Tubería de</text>
<text x="433.3" y="533.6" font-size="7.0" text-anchor="end" fill="#1a1a1a" xml:space="preserve">ventilación pvc Ø 2"</text>
<text x="567.5" y="555.8" font-size="7.0" text-anchor="end" fill="#1a1a1a" xml:space="preserve">Ducto de</text>
<text x="567.5" y="563.6" font-size="7.0" text-anchor="end" fill="#1a1a1a" xml:space="preserve">Retorno de</text>
<text x="567.5" y="571.4" font-size="7.0" text-anchor="end" fill="#1a1a1a" xml:space="preserve">Aire</text>
<text x="567.5" y="579.2" font-size="7.0" text-anchor="end" fill="#1a1a1a" xml:space="preserve">acondicionado</text>
<text x="567.5" y="600.3" font-size="7.0" text-anchor="end" fill="#1a1a1a" xml:space="preserve">Terminal de</text>
<text x="567.5" y="608.1" font-size="7.0" text-anchor="end" fill="#1a1a1a" xml:space="preserve">Aire 9" x 9"</text>
<text x="567.5" y="647.5" font-size="7.0" text-anchor="end" fill="#1a1a1a" xml:space="preserve">Tubería de</text>
<text x="567.5" y="655.3" font-size="7.0" text-anchor="end" fill="#1a1a1a" xml:space="preserve">agua fría PVC</text>
<text x="567.5" y="663.1" font-size="7.0" text-anchor="end" fill="#1a1a1a" xml:space="preserve">pavco Ø 3/4"</text>
<text x="567.5" y="675.3" font-size="7.0" text-anchor="end" fill="#1a1a1a" xml:space="preserve">Tubería de</text>
<text x="567.5" y="683.1" font-size="7.0" text-anchor="end" fill="#1a1a1a" xml:space="preserve">agua caliente</text>
<text x="567.5" y="690.9" font-size="7.0" text-anchor="end" fill="#1a1a1a" xml:space="preserve">CPVC pavco Ø</text>
<text x="567.5" y="698.7" font-size="7.0" text-anchor="end" fill="#1a1a1a" xml:space="preserve">1/2"</text>
<text x="567.5" y="708.3" font-size="7.0" text-anchor="end" fill="#1a1a1a" xml:space="preserve">Tubería de</text>
<text x="567.5" y="716.1" font-size="7.0" text-anchor="end" fill="#1a1a1a" xml:space="preserve">desague Ø 4"</text>
<text x="567.5" y="729.2" font-size="7.0" text-anchor="end" fill="#1a1a1a" xml:space="preserve">Trampa P de</text>
<text x="567.5" y="737" font-size="7.0" text-anchor="end" fill="#1a1a1a" xml:space="preserve">PVC pesado</text>
<text x="567.5" y="744.8" font-size="7.0" text-anchor="end" fill="#1a1a1a" xml:space="preserve">Ø 2"</text>
<text x="567.5" y="823" font-size="7.0" text-anchor="end" fill="#1a1a1a" xml:space="preserve">Ducto de</text>
<text x="567.5" y="830.8" font-size="7.0" text-anchor="end" fill="#1a1a1a" xml:space="preserve">suministro de</text>
<text x="567.5" y="838.6" font-size="7.0" text-anchor="end" fill="#1a1a1a" xml:space="preserve">aire  8" x 8"</text>
<text x="567.5" y="862" font-size="7.0" text-anchor="end" fill="#1a1a1a" xml:space="preserve">Ducto de</text>
<text x="567.5" y="869.8" font-size="7.0" text-anchor="end" fill="#1a1a1a" xml:space="preserve">Retorno de Aire</text>
<text x="567.5" y="877.6" font-size="7.0" text-anchor="end" fill="#1a1a1a" xml:space="preserve">9" x 9"</text>
<circle cx="63.4" cy="803.3" r="7.1" fill="#ee1111" stroke="#c01010" stroke-width="0.6" />
<text x="75.5" y="804.8" font-size="7.0" text-anchor="start" fill="#1c1c1c" style="stroke:#1c1c1c;stroke-width:0.08px">Agua Caliente Doméstica</text>
<circle cx="63.4" cy="822.8" r="7.1" fill="#0d0de0" stroke="#0a0ab0" stroke-width="0.6" />
<text x="75.5" y="824.3" font-size="7.0" text-anchor="start" fill="#1c1c1c" style="stroke:#1c1c1c;stroke-width:0.08px">Agua Fría Doméstica</text>
<circle cx="63.4" cy="842.3" r="7.1" fill="#10a818" stroke="#0c8412" stroke-width="0.6" />
<text x="75.5" y="843.8" font-size="7.0" text-anchor="start" fill="#1c1c1c" style="stroke:#1c1c1c;stroke-width:0.08px">Desague Sanitario</text>
<circle cx="63.4" cy="863.3" r="7.1" fill="#22e6ea" stroke="#18b4b8" stroke-width="0.6" />
<text x="75.5" y="864.8" font-size="7.0" text-anchor="start" fill="#1c1c1c" style="stroke:#1c1c1c;stroke-width:0.08px">Ventilación</text>
<circle cx="63.4" cy="884.5" r="7.1" fill="#fbab0a" stroke="#c98a0a" stroke-width="0.6" />
<text x="75.5" y="886" font-size="7.0" text-anchor="start" fill="#1c1c1c" style="stroke:#1c1c1c;stroke-width:0.08px">Contra incendio</text>
<circle cx="63.4" cy="907.5" r="7.1" fill="#e4b48e" stroke="#b08a6a" stroke-width="0.6" />
<text x="75.5" y="909" font-size="7.0" text-anchor="start" fill="#1c1c1c" style="stroke:#1c1c1c;stroke-width:0.08px">Ducto de retorno de aire</text>
<circle cx="63.4" cy="930.6" r="7.1" fill="#45c7a7" stroke="#35a086" stroke-width="0.6" />
<text x="75.5" y="932.1" font-size="7.0" text-anchor="start" fill="#1c1c1c" style="stroke:#1c1c1c;stroke-width:0.08px">Ducto de suministro de aire</text>
<circle cx="180.1" cy="930.1" r="10" fill="#fff" stroke="#c4c4c4" stroke-width="0.8" />
<text x="195.5" y="925.6" font-size="12.9" text-anchor="start" fill="#0a0a0a" style="stroke:#0a0a0a;stroke-width:0.25px">Leyenda de colores</text>
<text x="200" y="939" font-size="8" text-anchor="start" fill="#222" >1 : 20</text>
<line x1="190" y1="929.5" x2="313" y2="929.5" stroke="#d8d8d8" stroke-width="0.6" />
<circle cx="442.5" cy="930" r="9.6" fill="#fff" stroke="#bdbdbd" stroke-width="0.8" />
<text x="442.5" y="934.6" font-size="12.4" text-anchor="middle" fill="#0a0a0a" style="stroke:#0a0a0a;stroke-width:0.25px">14</text>
<text x="458.3" y="925.5" font-size="13.0" text-anchor="start" fill="#050505" style="stroke:#050505;stroke-width:0.3px">BOX01 Z. SSHH 05</text>
</g>
<g id="box02">
<line x1="688.3" y1="584.2" x2="840" y2="495.8" stroke="#9a9a9a" stroke-width="0.7" />
<line x1="840" y1="495.8" x2="848" y2="491" stroke="#9a9a9a" stroke-width="0.7" />
<line x1="697.5" y1="589.7" x2="791.7" y2="535" stroke="#9a9a9a" stroke-width="0.7" />
<line x1="688.3" y1="584.2" x2="697.5" y2="589.7" stroke="#9a9a9a" stroke-width="0.7" />
<line x1="791.7" y1="535" x2="998" y2="654" stroke="#9a9a9a" stroke-width="0.7" />
<line x1="801.7" y1="529.2" x2="850" y2="501.7" stroke="#9a9a9a" stroke-width="0.7" />
<line x1="850" y1="501.7" x2="870" y2="490" stroke="#9a9a9a" stroke-width="0.7" />
<line x1="801.7" y1="529.2" x2="950" y2="614" stroke="#9a9a9a" stroke-width="0.7" />
<line x1="850" y1="501.7" x2="1008.3" y2="592.5" stroke="#9a9a9a" stroke-width="0.7" />
<line x1="840" y1="507.5" x2="998.3" y2="599.2" stroke="#9a9a9a" stroke-width="0.7" />
<line x1="830" y1="545.8" x2="950" y2="615" stroke="#9a9a9a" stroke-width="0.6" />
<line x1="830" y1="556" x2="935" y2="616.5" stroke="#9a9a9a" stroke-width="0.6" />
<line x1="1008.3" y1="592.5" x2="1081.7" y2="550" stroke="#9a9a9a" stroke-width="0.7" />
<line x1="1081.7" y1="550" x2="1091.3" y2="555.5" stroke="#9a9a9a" stroke-width="0.7" />
<line x1="998.3" y1="608.5" x2="1091.3" y2="555.5" stroke="#9a9a9a" stroke-width="0.7" />
<line x1="935" y1="616.5" x2="950" y2="626.5" stroke="#9a9a9a" stroke-width="0.6" />
<line x1="950" y1="626.5" x2="1000" y2="598" stroke="#9a9a9a" stroke-width="0.6" />
<line x1="930" y1="640" x2="955" y2="626" stroke="#9a9a9a" stroke-width="0.6" />
<line x1="950.7" y1="626" x2="860" y2="679" stroke="#9a9a9a" stroke-width="0.6" />
<line x1="952" y1="636.5" x2="895" y2="669.5" stroke="#9a9a9a" stroke-width="0.6" />
<line x1="688.3" y1="584.2" x2="688.3" y2="845" stroke="#b0b0b0" stroke-width="0.7" />
<line x1="697.5" y1="589.7" x2="697.5" y2="850" stroke="#b0b0b0" stroke-width="0.7" />
<line x1="791.7" y1="535" x2="791.7" y2="650" stroke="#e0e0e0" stroke-width="0.7" />
<line x1="923.7" y1="489" x2="923.7" y2="543.3" stroke="#cfcfcf" stroke-width="0.8" />
<line x1="1091.3" y1="555.5" x2="1091.3" y2="815.8" stroke="#b8b8b8" stroke-width="0.7" />
<line x1="988.3" y1="640" x2="988.3" y2="890" stroke="#bcbcbc" stroke-width="0.7" />
<line x1="998.3" y1="620" x2="998.3" y2="885.8" stroke="#bcbcbc" stroke-width="0.7" />
<line x1="758" y1="666.7" x2="758" y2="813" stroke="#cdcdcd" stroke-width="0.7" />
<ellipse cx="757.5" cy="666.5" rx="1.6" ry="2.2" fill="#fff" stroke="#c4c4c4" stroke-width="0.5" />
<line x1="758" y1="667" x2="840" y2="620" stroke="#e8e8e8" stroke-width="2.2" />
<polygon points="853,520 886,539 886,562 853,543" fill="#f4f9fc" stroke="#e3e3e3" stroke-width="0.7" />
<polygon points="848,515 891,540 891,568 848,543" stroke="#e6e6e6" stroke-width="0.7" fill="none" />
<polyline points="945,557 985,534 985,578" stroke="#e2e2e2" stroke-width="0.8" fill="none" />
<polyline points="948,560 983,540" stroke="#ededed" stroke-width="2" fill="none" />
<line x1="960" y1="550" x2="960" y2="562" stroke="#e4e4e4" stroke-width="0.7" />
<line x1="640" y1="746.7" x2="688" y2="774" stroke="#c9c9c9" stroke-width="0.7" />
<line x1="640" y1="746.7" x2="688.3" y2="719" stroke="#c8c8c8" stroke-width="0.6" />
<line x1="656" y1="745" x2="656" y2="770" stroke="#c9c9c9" stroke-width="0.6" />
<line x1="711.7" y1="790" x2="878.3" y2="885" stroke="#b0b0b0" stroke-width="1" />
<line x1="685" y1="790" x2="878.3" y2="900" stroke="#b4b4b4" stroke-width="0.7" />
<line x1="655" y1="756" x2="685" y2="773" stroke="#c4c4c4" stroke-width="0.6" />
<line x1="878.3" y1="885" x2="878.3" y2="900" stroke="#b4b4b4" stroke-width="0.7" />
<line x1="878.3" y1="885" x2="1103" y2="756" stroke="#b4b4b4" stroke-width="1" />
<line x1="878.3" y1="900" x2="1091" y2="778" stroke="#b4b4b4" stroke-width="0.7" />
<line x1="1103" y1="750" x2="1103" y2="757" stroke="#c0c0c0" stroke-width="0.6" />
<line x1="1091.3" y1="745.8" x2="1103" y2="752" stroke="#c0c0c0" stroke-width="0.6" />
<line x1="1000" y1="869.2" x2="1091.3" y2="815.8" stroke="#b8b8b8" stroke-width="0.7" />
<line x1="1000" y1="830" x2="1070" y2="790" stroke="#c4c4c4" stroke-width="0.6" />
<line x1="998" y1="820" x2="1060" y2="785" stroke="#dcdcdc" stroke-width="0.6" />
<line x1="735" y1="800" x2="855" y2="731" stroke="#ededed" stroke-width="0.6" />
<line x1="754" y1="811" x2="874" y2="742" stroke="#ededed" stroke-width="0.6" />
<line x1="773" y1="822" x2="893" y2="753" stroke="#ededed" stroke-width="0.6" />
<line x1="792" y1="833" x2="912" y2="764" stroke="#ededed" stroke-width="0.6" />
<line x1="811" y1="844" x2="931" y2="775" stroke="#ededed" stroke-width="0.6" />
<line x1="830" y1="855" x2="950" y2="786" stroke="#ededed" stroke-width="0.6" />
<line x1="849" y1="866" x2="969" y2="797" stroke="#ededed" stroke-width="0.6" />
<line x1="868" y1="877" x2="988" y2="808" stroke="#ededed" stroke-width="0.6" />
<line x1="760" y1="785" x2="890" y2="860" stroke="#ededed" stroke-width="0.6" />
<line x1="782" y1="772.4" x2="912" y2="847.4" stroke="#ededed" stroke-width="0.6" />
<line x1="804" y1="759.8" x2="934" y2="834.8" stroke="#ededed" stroke-width="0.6" />
<line x1="826" y1="747.2" x2="956" y2="822.2" stroke="#ededed" stroke-width="0.6" />
<line x1="848" y1="734.6" x2="978" y2="809.6" stroke="#ededed" stroke-width="0.6" />
<line x1="870" y1="722" x2="1000" y2="797" stroke="#ededed" stroke-width="0.6" />
<polyline points="687.5,845 697.5,850 743.3,824.2" stroke="#b8b8b8" stroke-width="0.7" fill="none" />
<polyline points="754,813 754,824 760,827.5 760,816.5 754,813" stroke="#c0c0c0" stroke-width="0.6" fill="none" />
<line x1="855.8" y1="872" x2="855.8" y2="941.7" stroke="#c4c4c4" stroke-width="0.7" />
<line x1="865.5" y1="893" x2="865.5" y2="946.7" stroke="#c4c4c4" stroke-width="0.7" />
<line x1="855.8" y1="800" x2="855.8" y2="872" stroke="#dedede" stroke-width="0.6" />
<line x1="865.5" y1="800" x2="865.5" y2="878" stroke="#dedede" stroke-width="0.6" />
<polyline points="855.8,941.7 865.5,946.7 975,884.2 988.3,890 998.3,885.8" stroke="#bcbcbc" stroke-width="0.7" fill="none" />
<polygon points="778.3,585 815,563.3 815,606.7" fill="#f79fd0" stroke="none" stroke-width="0" />
<polygon points="815,563.3 851.7,585 815,606.7" fill="#fbdcf1" stroke="none" stroke-width="0" />
<polygon points="815,585 851.7,585 815,606.7" fill="#fde8f6" stroke="none" stroke-width="0" />
<polygon points="803.3,572.5 815,566.7 828.3,575 816.7,580.8" fill="#35c9a3" stroke="none" stroke-width="0" />
<polygon points="803.3,572.5 816.7,580.8 816.7,585.5 803.3,577" fill="#0c5f4c" stroke="none" stroke-width="0" />
<polygon points="816.7,580.8 828.3,575 828.3,579.5 816.7,585.5" fill="#1d957a" stroke="none" stroke-width="0" />
<ellipse cx="809" cy="570.8" rx="1.4" ry="0.9" fill="#111" stroke="none" stroke-width="0" />
<polygon points="779.2,805 815,789 815,825.8" fill="#f6a0cf" stroke="none" stroke-width="0" />
<polygon points="815,789 851,806 815,825.8" fill="#f7c9e4" stroke="none" stroke-width="0" />
<polygon points="740,748.3 760,741.7 826,779 815,785.5" fill="#4addbd" stroke="none" stroke-width="0" />
<polygon points="731,753 740,748.3 815,785.5 815,797 749,766" fill="#0e5747" stroke="none" stroke-width="0" />
<polygon points="815,785.5 826,779 826,790 815,797" fill="#35b99a" stroke="none" stroke-width="0" opacity="0.9"/>
<polygon points="731,753 750,746 759,751 750,766 741,760" fill="#0b4d3e" stroke="none" stroke-width="0" />
<polygon points="806,781 815,785.5 815,797 806,792.5" fill="#6f8f88" stroke="none" stroke-width="0" />
<polygon points="695.8,711.7 704.2,705.8 713.3,713 713.3,720 706,723" fill="#5fe0c4" stroke="none" stroke-width="0" />
<polygon points="695.8,711.7 704.2,716.7 704.2,723.3 698.3,726.7 695.8,721.7" fill="#0e5747" stroke="none" stroke-width="0" />
<polygon points="641.7,761.7 867.5,630.5 876.7,636 650.8,767.5" fill="#43dcba" stroke="none" stroke-width="0" />
<polygon points="650.8,767.5 876.7,636 876.7,645.5 650.8,776.7" fill="#23ab8b" stroke="none" stroke-width="0" />
<polygon points="867.5,630.5 876.7,636 876.7,640 867.5,634.5" fill="#2fbf9e" stroke="none" stroke-width="0" />
<polygon points="771.7,667.5 781.7,662.5 798,671.5 788,677.5" fill="#43dcba" stroke="none" stroke-width="0" />
<polygon points="771.7,667.5 788,677.5 778.3,683 771.7,679" fill="#0b4d3e" stroke="none" stroke-width="0" />
<polygon points="641.7,761.7 650.8,767.5 650.8,776.7 641.7,771.7" fill="#161616" stroke="none" stroke-width="0" />
<polygon points="643,765 649.5,768.8 649.5,774 643,770.3" fill="#0b4d3e" stroke="none" stroke-width="0" />
<polygon points="660,772.5 885,642 895,647.5 670,778.3" fill="#f6cd9e" stroke="none" stroke-width="0" />
<polygon points="670,778.3 895,647.5 895,657 670,787.5" fill="#d8a476" stroke="none" stroke-width="0" />
<polygon points="660,772.5 670,778.3 670,787.5 660,781.7" fill="#161616" stroke="none" stroke-width="0" />
<polygon points="661.3,775.5 668.7,779.6 668.7,785 661.3,780.8" fill="#3a2d22" stroke="none" stroke-width="0" />
<rect x="882.7" y="662" width="10.8" height="41.5" fill="#4a3a40" stroke="none" stroke-width="0" />
<rect x="893.3" y="646.7" width="2.6" height="56.6" fill="#d9a778" stroke="none" stroke-width="0" />
<path d="M938,705 C940,697 958,693 972,696 C980,698 983,704 981,711 C978,722 965,730 952,733 L944,728 Z" fill="#f6f6f6" stroke="#e0e0e0" stroke-width="0.5" />
<path d="M944,728 C958,726 975,718 981,708 C981,716 974,726 962,731 L952,735 Z" fill="#dedede" stroke="none" stroke-width="0" />
<polygon points="962,716 972,711 972,730 962,735" fill="#d4d4d4" stroke="none" stroke-width="0" />
<polygon points="938.5,703 953,710 951,724 941,717" fill="#cdcdcd" stroke="none" stroke-width="0" />
<polygon points="940,704.5 955,712 955,717 940,709.5" fill="#e6e6e6" stroke="none" stroke-width="0" />
<polygon points="936.7,721.7 948.3,727.5 948.3,743.5 936.7,737.5" fill="#9c9c9c" stroke="none" stroke-width="0" />
<polygon points="948.3,727.5 953.5,725 953.5,741 948.3,743.5" fill="#d6d6d6" stroke="none" stroke-width="0" />
<polygon points="982.2,711.5 1007.4,725 1031.86,711.8 1006.66,698.3" fill="#f0f0f0" stroke="none" stroke-width="0" />
<polygon points="982.2,711.5 1007.4,725 1007.4,739.6 982.2,726.1" fill="#dedede" stroke="#c9c9c9" stroke-width="0.4" />
<polygon points="984.72,717.23 1006.64,728.98 1006.64,738.76 984.72,726.72" fill="#8e8e8e" stroke="none" stroke-width="0" />
<polygon points="984.72,717.23 1006.64,728.98 1006.64,731.89 984.72,720.15" fill="#b4b4b4" stroke="none" stroke-width="0" />
<polygon points="1007.4,725 1063,695 1063,709.6 1007.4,739.6" fill="#d6d6d6" stroke="none" stroke-width="0" />
<polygon points="1007.4,725 1009,724.1 1009,738.7 1007.4,739.6" fill="#f7f7f7" stroke="none" stroke-width="0" />
<polygon points="1020.52,696.67 1051.66,679.87 1063,685.95 1031.86,702.75" fill="#ececec" stroke="none" stroke-width="0" opacity="0.92"/>
<polygon points="1020.52,696.67 1031.86,702.75 1031.86,711.8 1020.52,705.72" fill="#e4e4e4" stroke="none" stroke-width="0" opacity="0.9"/>
<polygon points="1031.86,702.75 1063,685.95 1063,697.92 1031.86,714.72" fill="#cfcfcf" stroke="none" stroke-width="0" opacity="0.9"/>
<polygon points="1034.35,703.4 1061.44,688.78 1061.44,698.03 1034.35,712.65" fill="#ababab" stroke="none" stroke-width="0" opacity="0.85"/>
<polygon points="1034.35,703.4 1061.44,688.78 1061.44,693.58 1034.35,708.19" fill="#c4c4c4" stroke="none" stroke-width="0" opacity="0.8"/>
<polygon points="1063,685.95 1063.01,685.95 1063,709.6 1061.5,710.4" fill="#ededed" stroke="none" stroke-width="0" />
<ellipse cx="1015.5" cy="688.5" rx="17.8" ry="13.2" fill="url(#bowlB)" stroke="#c4c4c4" stroke-width="0.5"/>
<path d="M999.5,692.5 C1005.5,702 1024.5,703 1032.5,691.5 C1025.5,697 1007.5,697.5 999.5,692.5 Z" fill="#9d9d9d" stroke="none" stroke-width="0" opacity="0.8"/>
<path d="M1011.5,676.5 C1023.5,676 1032.5,681.5 1032.8,688.5 C1027.5,683.5 1019.5,680.5 1011.5,676.5 Z" fill="#8f8f8f" stroke="none" stroke-width="0" opacity="0.75"/>
<ellipse cx="1012.5" cy="686.5" rx="10.5" ry="6" fill="#ffffff" opacity="0.85"/>
<line x1="1009.5" y1="694" x2="1021.5" y2="691" stroke="#b0b0b0" stroke-width="0.8" />
<polyline points="1036,787 1025,786 1000,777.5 965,762.5" stroke="#057c0c" stroke-width="6.5" fill="none" stroke-linecap="round" stroke-linejoin="round"/>
<polyline points="1035.41,786.41 1024.41,785.41 999.41,776.91 964.41,761.91" stroke="#08a814" stroke-width="5.46" fill="none" stroke-linecap="round" stroke-linejoin="round"/>
<polyline points="1034.83,785.83 1023.83,784.83 998.83,776.33 963.83,761.33" stroke="#1cc828" stroke-width="1.95" fill="none" stroke-linecap="round" stroke-linejoin="round"/>
<polyline points="1030.5,719.5 1033.8,721 1033.8,785 1010,792.5 964.5,768.5" stroke="#cf1b1b" stroke-width="2.2" fill="none" />
<polyline points="1042.5,712.5 1046.7,714 1046.7,776.7" stroke="#1010b0" stroke-width="2.4" fill="none" />
<polyline points="1046.7,776.7 1036.7,771.7 1010,785.8 964.5,759" stroke="#1010b0" stroke-width="2.4" fill="none" />
<polyline points="1035,714.5 1039,716 1040.8,721 1040.8,783 1038.5,787 1034,787.5" stroke="#057c0c" stroke-width="7.6" fill="none" stroke-linecap="round" stroke-linejoin="round"/>
<polyline points="1034.32,713.82 1038.32,715.32 1040.12,720.32 1040.12,782.32 1037.82,786.32 1033.32,786.82" stroke="#08a814" stroke-width="6.38" fill="none" stroke-linecap="round" stroke-linejoin="round"/>
<polyline points="1033.63,713.13 1037.63,714.63 1039.43,719.63 1039.43,781.63 1037.13,785.63 1032.63,786.13" stroke="#1cc828" stroke-width="2.28" fill="none" stroke-linecap="round" stroke-linejoin="round"/>
<polyline points="905,740 933,725.5" stroke="#10a9ad" stroke-width="5" fill="none" stroke-linecap="round" stroke-linejoin="round"/>
<polyline points="905,739.7 933,725.2" stroke="#20e4e8" stroke-width="4.2" fill="none" stroke-linecap="round" stroke-linejoin="round"/>
<polyline points="905,739.4 933,724.9" stroke="#7ff6f7" stroke-width="1.5" fill="none" stroke-linecap="round" stroke-linejoin="round"/>
<polyline points="839,783.5 858,775" stroke="#10a9ad" stroke-width="5" fill="none" stroke-linecap="round" stroke-linejoin="round"/>
<polyline points="839,783.2 858,774.7" stroke="#20e4e8" stroke-width="4.2" fill="none" stroke-linecap="round" stroke-linejoin="round"/>
<polyline points="839,782.9 858,774.4" stroke="#7ff6f7" stroke-width="1.5" fill="none" stroke-linecap="round" stroke-linejoin="round"/>
<polyline points="922.5,686 921,690 924,695 928,699 930,703.5 934,712 946.5,743" stroke="#057c0c" stroke-width="6" fill="none" stroke-linecap="round" stroke-linejoin="round"/>
<polyline points="921.96,685.46 920.46,689.46 923.46,694.46 927.46,698.46 929.46,702.96 933.46,711.46 945.96,742.46" stroke="#08a814" stroke-width="5.04" fill="none" stroke-linecap="round" stroke-linejoin="round"/>
<polyline points="921.42,684.92 919.92,688.92 922.92,693.92 926.92,697.92 928.92,702.42 932.92,710.92 945.42,741.92" stroke="#1cc828" stroke-width="1.8" fill="none" stroke-linecap="round" stroke-linejoin="round"/>
<ellipse cx="922.8" cy="685.5" rx="3" ry="2" fill="#1cc828" stroke="none" stroke-width="0" />
<line x1="830" y1="702.5" x2="910.8" y2="655.8" stroke="#cf1b1b" stroke-width="2.6" />
<line x1="841.7" y1="695.8" x2="953.3" y2="760" stroke="#cf1b1b" stroke-width="2.2" />
<line x1="830" y1="691.7" x2="903.3" y2="649.2" stroke="#1010b0" stroke-width="2.8" />
<line x1="836.7" y1="686.7" x2="946.7" y2="748.3" stroke="#1010b0" stroke-width="2.8" />
<polyline points="820.7,632.7 858,654 866.7,661.7 869,665.5 872,667.5" stroke="#1010b0" stroke-width="2.6" fill="none" />
<polyline points="834.7,659 834.7,756.7 823.3,763.3" stroke="#1010b0" stroke-width="2.5" fill="none" />
<polyline points="883.7,640 883.7,726.7 896.7,720.8" stroke="#1010b0" stroke-width="2.5" fill="none" />
<polyline points="926.7,724 923.3,725.5 923.3,743.3" stroke="#1010b0" stroke-width="2.5" fill="none" />
<polyline points="864.2,703.3 864.2,719.2 871.5,714.5" stroke="#cf1b1b" stroke-width="2.3" fill="none" />
<line x1="677.5" y1="779.2" x2="840" y2="685" stroke="#1010b0" stroke-width="2.8" />
<line x1="684.2" y1="785.8" x2="840" y2="695.8" stroke="#cf1b1b" stroke-width="2.4" />
<line x1="763.3" y1="730" x2="905" y2="810.5" stroke="#1010b0" stroke-width="2.8" />
<line x1="775" y1="734.2" x2="900" y2="805.5" stroke="#cf1b1b" stroke-width="2.2" />
<circle cx="763.3" cy="730" r="2.2" fill="#1010b0" stroke="none" stroke-width="0" />
<polyline points="811,648.3 816.7,646.7 816.7,746.7 806.7,751.7" stroke="#cf1b1b" stroke-width="2.3" fill="none" />
<polyline points="831.5,658.7 835,659 835,756.7" stroke="#1010b0" stroke-width="2.5" fill="none" />
<ellipse cx="820.3" cy="655.3" rx="4.2" ry="6.2" fill="#6a6a6a" stroke="#9a9a9a" stroke-width="0.5" transform="rotate(-25 820.3 655.3)"/>
<ellipse cx="819.8" cy="655" rx="1.6" ry="2.3" fill="#b8b8b8" stroke="none" stroke-width="0" />
<polyline points="868.5,617 864.2,618.8 864.2,662" stroke="#cf1b1b" stroke-width="2.3" fill="none" />
<ellipse cx="878.5" cy="621.7" rx="4.3" ry="6.4" fill="#636363" stroke="#9a9a9a" stroke-width="0.5" transform="rotate(-25 878.5 621.7)"/>
<line x1="884" y1="617" x2="884" y2="623" stroke="#9a9a9a" stroke-width="0.8" />
<polyline points="888,627.5 883.5,630 883.5,645" stroke="#1010b0" stroke-width="2.5" fill="none" />
<ellipse cx="877.7" cy="544.4" rx="1" ry="1.8" fill="#111" stroke="none" stroke-width="0" />
<polyline points="879,544 888,540 899,543.5" stroke="#aaaaaa" stroke-width="0.6" fill="none" />
<polyline points="771.7,769.5 771.5,776 768,779.5 762,780 759.5,783.5 761,788 768,790 782,790.5" stroke="#057c0c" stroke-width="6" fill="none" stroke-linecap="round" stroke-linejoin="round"/>
<polyline points="771.16,768.96 770.96,775.46 767.46,778.96 761.46,779.46 758.96,782.96 760.46,787.46 767.46,789.46 781.46,789.96" stroke="#08a814" stroke-width="5.04" fill="none" stroke-linecap="round" stroke-linejoin="round"/>
<polyline points="770.62,768.42 770.42,774.92 766.92,778.42 760.92,778.92 758.42,782.42 759.92,786.92 766.92,788.92 780.92,789.42" stroke="#1cc828" stroke-width="1.8" fill="none" stroke-linecap="round" stroke-linejoin="round"/>
<ellipse cx="771.7" cy="769" rx="2.6" ry="1.6" fill="#1cc828" stroke="none" stroke-width="0" />
<polyline points="781.7,790.5 830,800.5 870,807 900,812.5 925,818 954,822.5" stroke="#057c0c" stroke-width="11.5" fill="none" stroke-linecap="round" stroke-linejoin="round"/>
<polyline points="780.67,789.47 828.97,799.47 868.97,805.97 898.97,811.47 923.97,816.97 952.97,821.47" stroke="#08a814" stroke-width="9.66" fill="none" stroke-linecap="round" stroke-linejoin="round"/>
<polyline points="779.63,788.43 827.93,798.43 867.93,804.93 897.93,810.43 922.93,815.93 951.93,820.43" stroke="#1cc828" stroke-width="3.45" fill="none" stroke-linecap="round" stroke-linejoin="round"/>
<rect x="830.2" y="783" width="9.6" height="16" fill="#057c0c" stroke="none" stroke-width="0" />
<rect x="831.45" y="783" width="8.35" height="16" fill="#08a814" stroke="none" stroke-width="0" />
<rect x="832.89" y="783" width="2.88" height="16" fill="#1cc828" stroke="none" stroke-width="0" />
<rect x="830.2" y="783" width="0.96" height="16" fill="#03590a" stroke="none" stroke-width="0" />
<ellipse cx="835" cy="783" rx="4.8" ry="2.2" fill="#0e9a1c" stroke="none" stroke-width="0" />
<rect x="856" y="793" width="9.6" height="18.7" fill="#057c0c" stroke="none" stroke-width="0" />
<rect x="857.25" y="793" width="8.35" height="18.7" fill="#08a814" stroke="none" stroke-width="0" />
<rect x="858.69" y="793" width="2.88" height="18.7" fill="#1cc828" stroke="none" stroke-width="0" />
<rect x="856" y="793" width="0.96" height="18.7" fill="#03590a" stroke="none" stroke-width="0" />
<ellipse cx="860.8" cy="793" rx="4.8" ry="2.2" fill="#0e9a1c" stroke="none" stroke-width="0" />
<rect x="858.3" y="811.7" width="5" height="8.5" fill="#18c9cf" stroke="none" stroke-width="0" />
<ellipse cx="860.8" cy="820" rx="2.5" ry="1.3" fill="#0c7c80" stroke="none" stroke-width="0" />
<polyline points="891,813.5 903,826 917,846.5" stroke="#057c0c" stroke-width="6.2" fill="none" stroke-linecap="round" stroke-linejoin="round"/>
<polyline points="890.44,812.94 902.44,825.44 916.44,845.94" stroke="#08a814" stroke-width="5.21" fill="none" stroke-linecap="round" stroke-linejoin="round"/>
<polyline points="889.88,812.38 901.88,824.88 915.88,845.38" stroke="#1cc828" stroke-width="1.86" fill="none" stroke-linecap="round" stroke-linejoin="round"/>
<polygon points="862.2,758 896.2,778.5 927.4,761.56 898.5,744.14" fill="#f0f0f0" stroke="none" stroke-width="0" />
<polygon points="862.2,758 896.2,778.5 896.2,801.9 862.2,781.4" fill="#dedede" stroke="#c9c9c9" stroke-width="0.4" />
<polygon points="865.6,767.07 895.18,784.9 895.18,800.58 865.6,782.28" fill="#8e8e8e" stroke="none" stroke-width="0" />
<polygon points="865.6,767.07 895.18,784.9 895.18,789.59 865.6,771.75" fill="#b4b4b4" stroke="none" stroke-width="0" />
<polygon points="896.2,778.5 950,749.3 950,772.7 896.2,801.9" fill="#d6d6d6" stroke="none" stroke-width="0" />
<polygon points="896.2,778.5 897.8,777.6 897.8,801 896.2,801.9" fill="#f7f7f7" stroke="none" stroke-width="0" />
<polygon points="914.4,739.21 937,726.95 950,734.79 927.4,747.06" fill="#ececec" stroke="none" stroke-width="0" opacity="0.92"/>
<polygon points="914.4,739.21 927.4,747.06 927.4,761.56 914.4,753.72" fill="#e4e4e4" stroke="none" stroke-width="0" opacity="0.9"/>
<polygon points="927.4,747.06 950,734.79 950,753.98 927.4,766.24" fill="#cfcfcf" stroke="none" stroke-width="0" opacity="0.9"/>
<polygon points="929.21,749.27 948.87,738.6 948.87,753.42 929.21,764.09" fill="#ababab" stroke="none" stroke-width="0" opacity="0.85"/>
<polygon points="929.21,749.27 948.87,738.6 948.87,746.29 929.21,756.96" fill="#c4c4c4" stroke="none" stroke-width="0" opacity="0.8"/>
<polygon points="950,734.79 950.01,734.79 950,772.7 948.5,773.5" fill="#ededed" stroke="none" stroke-width="0" />
<ellipse cx="901" cy="754.5" rx="17.8" ry="13.2" fill="url(#bowlB)" stroke="#c4c4c4" stroke-width="0.5"/>
<path d="M885,758.5 C891,768 910,769 918,757.5 C911,763 893,763.5 885,758.5 Z" fill="#9d9d9d" stroke="none" stroke-width="0" opacity="0.8"/>
<path d="M897,742.5 C909,742 918,747.5 918.3,754.5 C913,749.5 905,746.5 897,742.5 Z" fill="#8f8f8f" stroke="none" stroke-width="0" opacity="0.75"/>
<ellipse cx="898" cy="752.5" rx="10.5" ry="6" fill="#ffffff" opacity="0.85"/>
<line x1="895" y1="760" x2="907" y2="757" stroke="#b0b0b0" stroke-width="0.8" />
<path d="M836.5,766 C838,759 850,756.5 860,758.5 C866,760 869,764 868,769 C866,774 858,777 850,776.5 C842,776 836.5,772 836.5,766 Z" fill="#f7f7f7" stroke="#e2e2e2" stroke-width="0.5" opacity="0.96"/>
<path d="M846.4,776 L846.4,790.5 C848,796 861,796.5 865,791 L865,775 C860,777.5 851,778 846.4,776 Z" fill="#c9c9c9" stroke="none" stroke-width="0" />
<path d="M846.4,776 L846.4,790.5 C847,793 849,794.5 851,795 L851,777.3 Z" fill="#a8a8a8" stroke="none" stroke-width="0" />
<ellipse cx="856.5" cy="787.5" rx="4.5" ry="2.4" fill="#ececec" stroke="#bdbdbd" stroke-width="0.4" />
<polyline points="916,785.8 920,787.5 920,847.5" stroke="#1010b0" stroke-width="2.2" fill="none" />
<polyline points="928,778 932,779.5 932,844.2" stroke="#cf1b1b" stroke-width="2.2" fill="none" />
<polyline points="866.7,790 920,820.8 934.2,830 909.2,844.2 921,850" stroke="#1010b0" stroke-width="2.5" fill="none" />
<polyline points="872,789 932,823 943.5,830.5 930.5,845 927,843" stroke="#cf1b1b" stroke-width="2.2" fill="none" />
<polyline points="918.5,786.5 922,787 924.3,791 924.3,849 922.5,853.5 919,853" stroke="#057c0c" stroke-width="7.4" fill="none" stroke-linecap="round" stroke-linejoin="round"/>
<polyline points="917.83,785.83 921.33,786.33 923.63,790.33 923.63,848.33 921.83,852.83 918.33,852.33" stroke="#08a814" stroke-width="6.22" fill="none" stroke-linecap="round" stroke-linejoin="round"/>
<polyline points="917.17,785.17 920.67,785.67 922.97,789.67 922.97,847.67 921.17,852.17 917.67,851.67" stroke="#1cc828" stroke-width="2.22" fill="none" stroke-linecap="round" stroke-linejoin="round"/>
<polyline points="964,766.5 975,790 986,803 989.7,812 989.7,840 986.5,848 979,853.5 965,863.5" stroke="#057c0c" stroke-width="10.2" fill="none" stroke-linecap="round" stroke-linejoin="round"/>
<polyline points="963.08,765.58 974.08,789.08 985.08,802.08 988.78,811.08 988.78,839.08 985.58,847.08 978.08,852.58 964.08,862.58" stroke="#08a814" stroke-width="8.57" fill="none" stroke-linecap="round" stroke-linejoin="round"/>
<polyline points="962.16,764.66 973.16,788.16 984.16,801.16 987.86,810.16 987.86,838.16 984.66,846.16 977.16,851.66 963.16,861.66" stroke="#1cc828" stroke-width="3.06" fill="none" stroke-linecap="round" stroke-linejoin="round"/>
<polyline points="989.8,622 989.5,628 985,632.5 964,643.5" stroke="#057c0c" stroke-width="10.2" fill="none" stroke-linecap="round" stroke-linejoin="round"/>
<polyline points="988.88,621.08 988.58,627.08 984.08,631.58 963.08,642.58" stroke="#08a814" stroke-width="8.57" fill="none" stroke-linecap="round" stroke-linejoin="round"/>
<polyline points="987.96,620.16 987.66,626.16 983.16,630.66 962.16,641.66" stroke="#1cc828" stroke-width="3.06" fill="none" stroke-linecap="round" stroke-linejoin="round"/>
<rect x="984.65" y="599.5" width="10.3" height="22.5" fill="#057c0c" stroke="none" stroke-width="0" />
<rect x="985.99" y="599.5" width="8.96" height="22.5" fill="#08a814" stroke="none" stroke-width="0" />
<rect x="987.53" y="599.5" width="3.09" height="22.5" fill="#1cc828" stroke="none" stroke-width="0" />
<rect x="984.65" y="599.5" width="1.03" height="22.5" fill="#03590a" stroke="none" stroke-width="0" />
<ellipse cx="989.8" cy="599.5" rx="5.15" ry="2.83" fill="#a8a8a8" stroke="#8a8a8a" stroke-width="0.4" />
<rect x="954.2" y="617" width="10" height="261" fill="#056a0a" stroke="none" stroke-width="0" />
<rect x="955.5" y="617" width="8.7" height="261" fill="#0a9a14" stroke="none" stroke-width="0" />
<rect x="957" y="617" width="3" height="261" fill="#16b822" stroke="none" stroke-width="0" />
<ellipse cx="959.2" cy="617" rx="5" ry="2.75" fill="#a8a8a8" stroke="#8a8a8a" stroke-width="0.4" />
<rect x="954.2" y="617" width="1" height="261" fill="#03590a" stroke="none" stroke-width="0" />
<ellipse cx="959.2" cy="878" rx="5" ry="2.4" fill="#057c0c" stroke="none" stroke-width="0" />
<rect x="953.6" y="654" width="11.2" height="3.4" fill="#0c9a18" stroke="none" stroke-width="0" />
<rect x="953.6" y="819" width="11.2" height="3" fill="#0c9a18" stroke="none" stroke-width="0" />
<rect x="953.6" y="865" width="11.2" height="3" fill="#0c9a18" stroke="none" stroke-width="0" />
<rect x="858.1" y="558.5" width="5.8" height="184.8" fill="#0f9fa2" stroke="none" stroke-width="0" />
<rect x="861.7" y="558.5" width="2.2" height="184.8" fill="#18dcdf" stroke="none" stroke-width="0" />
<rect x="858.1" y="558.5" width="1.16" height="184.8" fill="#0b8083" stroke="none" stroke-width="0" />
<ellipse cx="861" cy="558.5" rx="2.9" ry="1.4" fill="#25e8ea" stroke="none" stroke-width="0" />
<rect x="888.3" y="539.5" width="5.8" height="202.2" fill="#0f9fa2" stroke="none" stroke-width="0" />
<rect x="891.9" y="539.5" width="2.2" height="202.2" fill="#18dcdf" stroke="none" stroke-width="0" />
<rect x="888.3" y="539.5" width="1.16" height="202.2" fill="#0b8083" stroke="none" stroke-width="0" />
<ellipse cx="891.2" cy="539.5" rx="2.9" ry="1.4" fill="#25e8ea" stroke="none" stroke-width="0" />
<ellipse cx="861" cy="743" rx="2.8" ry="1.4" fill="#0c7c80" stroke="none" stroke-width="0" />
<ellipse cx="891.2" cy="741.5" rx="2.8" ry="1.4" fill="#0c7c80" stroke="none" stroke-width="0" />
<polyline points="676.7,571.3 808,571.3" stroke="#9a9a9a" stroke-width="0.6" fill="none" />
<polygon points="808,571.3 804.48,572.29 804.48,570.31" fill="#333" stroke="none" stroke-width="0" />
<polyline points="676.7,598 792.5,598" stroke="#9a9a9a" stroke-width="0.6" fill="none" />
<polygon points="792.5,598 788.98,598.99 788.98,597.01" fill="#333" stroke="none" stroke-width="0" />
<polyline points="676.7,685 704.2,685 704.2,713.5" stroke="#9a9a9a" stroke-width="0.6" fill="none" />
<polygon points="704.2,713.5 703.21,709.98 705.19,709.98" fill="#333" stroke="none" stroke-width="0" />
<polyline points="676.7,722.8 692.5,722.8 692.5,757.5" stroke="#9a9a9a" stroke-width="0.6" fill="none" />
<polygon points="692.5,757.5 691.51,753.98 693.49,753.98" fill="#333" stroke="none" stroke-width="0" />
<polyline points="676.7,800 682.5,800 682.5,782" stroke="#9a9a9a" stroke-width="0.6" fill="none" />
<polygon points="682.5,781 683.49,784.52 681.51,784.52" fill="#333" stroke="none" stroke-width="0" />
<polyline points="676.7,836.7 692.5,836.7 692.5,788" stroke="#9a9a9a" stroke-width="0.6" fill="none" />
<polygon points="692.5,787 693.49,790.52 691.51,790.52" fill="#333" stroke="none" stroke-width="0" />
<polyline points="1095.8,613.8 998,613.8" stroke="#9a9a9a" stroke-width="0.6" fill="none" />
<polygon points="998,613.8 1001.52,612.81 1001.52,614.79" fill="#333" stroke="none" stroke-width="0" />
<polyline points="1096.7,655.5 1045.3,655.5 1045.3,678" stroke="#9a9a9a" stroke-width="0.6" fill="none" />
<polygon points="1045.3,678 1044.31,674.48 1046.29,674.48" fill="#333" stroke="none" stroke-width="0" />
<polyline points="1091.3,710.3 1060,710.3" stroke="#9a9a9a" stroke-width="0.6" fill="none" />
<polyline points="1091.3,745.8 1049.5,745.8" stroke="#9a9a9a" stroke-width="0.6" fill="none" />
<polygon points="1049.5,745.8 1053.02,744.81 1053.02,746.79" fill="#333" stroke="none" stroke-width="0" />
<polyline points="1091.3,769.2 1050,769.2" stroke="#c8c8c8" stroke-width="0.6" fill="none" />
<polyline points="1092.5,825.5 996.5,825.5" stroke="#9a9a9a" stroke-width="0.6" fill="none" />
<polygon points="996.5,825.5 1000.02,824.51 1000.02,826.49" fill="#333" stroke="none" stroke-width="0" />
<polyline points="1092.5,849.5 996.5,849.5" stroke="#9a9a9a" stroke-width="0.6" fill="none" />
<polygon points="996.5,849.5 1000.02,848.51 1000.02,850.49" fill="#333" stroke="none" stroke-width="0" />
<polyline points="1092.5,875.5 968,875.5" stroke="#9a9a9a" stroke-width="0.6" fill="none" />
<polygon points="968,875.5 971.52,874.51 971.52,876.49" fill="#333" stroke="none" stroke-width="0" />
<text x="625" y="562.2" font-size="7.0" text-anchor="start" fill="#1a1a1a" xml:space="preserve">Ducto de</text>
<text x="625" y="570" font-size="7.0" text-anchor="start" fill="#1a1a1a" xml:space="preserve">Retorno de Aire</text>
<text x="625" y="577.8" font-size="7.0" text-anchor="start" fill="#1a1a1a" xml:space="preserve">acondicionado</text>
<text x="625" y="596.7" font-size="7.0" text-anchor="start" fill="#1a1a1a" xml:space="preserve">Terminal de</text>
<text x="625" y="604.5" font-size="7.0" text-anchor="start" fill="#1a1a1a" xml:space="preserve">Aire 9" x 9"</text>
<text x="625" y="680.3" font-size="7.0" text-anchor="start" fill="#1a1a1a" xml:space="preserve">Ducto de</text>
<text x="625" y="688.1" font-size="7.0" text-anchor="start" fill="#1a1a1a" xml:space="preserve">suministro de</text>
<text x="625" y="695.9" font-size="7.0" text-anchor="start" fill="#1a1a1a" xml:space="preserve">aire  8" x 8"</text>
<text x="625" y="714.7" font-size="7.0" text-anchor="start" fill="#1a1a1a" xml:space="preserve">Ducto de</text>
<text x="625" y="722.5" font-size="7.0" text-anchor="start" fill="#1a1a1a" xml:space="preserve">Retorno de Aire</text>
<text x="625" y="730.3" font-size="7.0" text-anchor="start" fill="#1a1a1a" xml:space="preserve">9" x 9"</text>
<text x="625" y="794.7" font-size="7.0" text-anchor="start" fill="#1a1a1a" xml:space="preserve">Tubería de</text>
<text x="625" y="802.5" font-size="7.0" text-anchor="start" fill="#1a1a1a" xml:space="preserve">agua fría PVC</text>
<text x="625" y="810.3" font-size="7.0" text-anchor="start" fill="#1a1a1a" xml:space="preserve">pavco Ø 3/4"</text>
<text x="625" y="828" font-size="7.0" text-anchor="start" fill="#1a1a1a" xml:space="preserve">Tubería de</text>
<text x="625" y="835.8" font-size="7.0" text-anchor="start" fill="#1a1a1a" xml:space="preserve">agua caliente</text>
<text x="625" y="843.6" font-size="7.0" text-anchor="start" fill="#1a1a1a" xml:space="preserve">CPVC pavco Ø</text>
<text x="625" y="851.4" font-size="7.0" text-anchor="start" fill="#1a1a1a" xml:space="preserve">1/2"</text>
<text x="1144.3" y="612.5" font-size="7.0" text-anchor="end" fill="#1a1a1a" xml:space="preserve">Tubería de</text>
<text x="1144.3" y="620.3" font-size="7.0" text-anchor="end" fill="#1a1a1a" xml:space="preserve">desague Ø 4"</text>
<text x="1144.3" y="653.7" font-size="7.0" text-anchor="end" fill="#1a1a1a" xml:space="preserve">Lavadero con</text>
<text x="1144.3" y="661.5" font-size="7.0" text-anchor="end" fill="#1a1a1a" xml:space="preserve">mesada</text>
<text x="1144.3" y="700.8" font-size="7.0" text-anchor="end" fill="#1a1a1a" xml:space="preserve">Tubería de</text>
<text x="1144.3" y="708.6" font-size="7.0" text-anchor="end" fill="#1a1a1a" xml:space="preserve">agua caliente</text>
<text x="1144.3" y="716.4" font-size="7.0" text-anchor="end" fill="#1a1a1a" xml:space="preserve">CPVC pavco Ø</text>
<text x="1144.3" y="724.2" font-size="7.0" text-anchor="end" fill="#1a1a1a" xml:space="preserve">1/2"</text>
<text x="1144.3" y="740" font-size="7.0" text-anchor="end" fill="#1a1a1a" xml:space="preserve">Tubería de</text>
<text x="1144.3" y="747.8" font-size="7.0" text-anchor="end" fill="#1a1a1a" xml:space="preserve">agua fría PVC</text>
<text x="1144.3" y="755.6" font-size="7.0" text-anchor="end" fill="#1a1a1a" xml:space="preserve">pavco Ø 3/4"</text>
<text x="1144.3" y="767.5" font-size="7.0" text-anchor="end" fill="#1a1a1a" xml:space="preserve">Tubería de</text>
<text x="1144.3" y="775.3" font-size="7.0" text-anchor="end" fill="#1a1a1a" xml:space="preserve">desague Ø 2"</text>
<text x="1144.3" y="823.8" font-size="7.0" text-anchor="end" fill="#1a1a1a" xml:space="preserve">Tubería de</text>
<text x="1144.3" y="831.6" font-size="7.0" text-anchor="end" fill="#1a1a1a" xml:space="preserve">desague Ø 4"</text>
<text x="1144.3" y="848" font-size="7.0" text-anchor="end" fill="#1a1a1a" xml:space="preserve">Codo 90° pvc</text>
<text x="1144.3" y="855.8" font-size="7.0" text-anchor="end" fill="#1a1a1a" xml:space="preserve">pesado</text>
<text x="1144.3" y="873.8" font-size="7.0" text-anchor="end" fill="#1a1a1a" xml:space="preserve">Unión Tee pvc</text>
<text x="1144.3" y="881.6" font-size="7.0" text-anchor="end" fill="#1a1a1a" xml:space="preserve">pesado</text>
<circle cx="1020" cy="937.7" r="9.6" fill="#fff" stroke="#bdbdbd" stroke-width="0.8" />
<text x="1020" y="942.3" font-size="12.4" text-anchor="middle" fill="#0a0a0a" style="stroke:#0a0a0a;stroke-width:0.25px">15</text>
<text x="1035.5" y="933.3" font-size="13.0" text-anchor="start" fill="#050505" style="stroke:#050505;stroke-width:0.3px">BOX02 Z. SSHH 05</text>
</g>
</svg>
</body></html>
